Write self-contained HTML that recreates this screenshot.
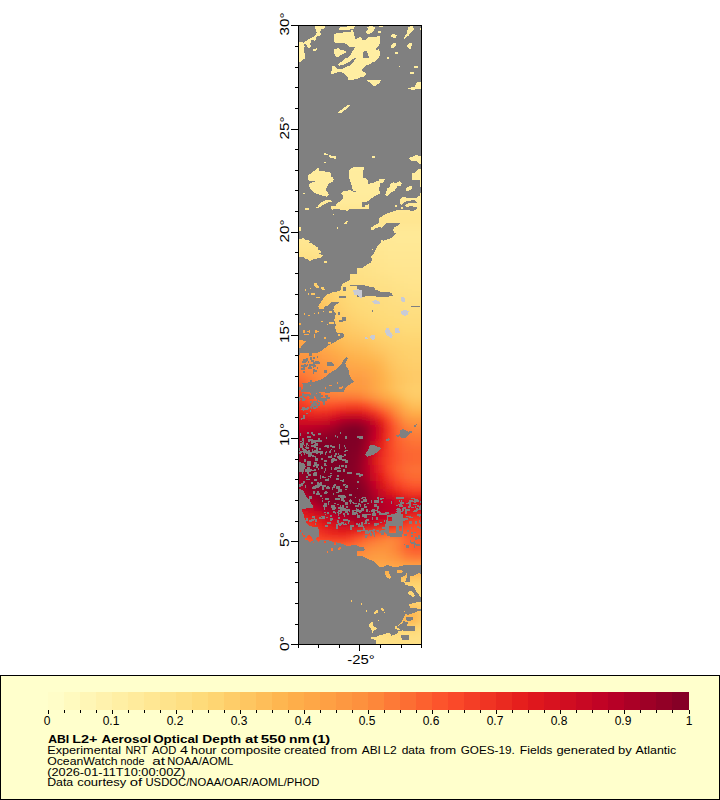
<!DOCTYPE html><html><head><meta charset="utf-8"><style>html,body{margin:0;padding:0;background:#fff;}svg{display:block}</style></head><body><svg width="720" height="800" viewBox="0 0 720 800" shape-rendering="auto"><defs><clipPath id="mc"><rect x="299" y="26" width="122" height="618"/></clipPath><filter id="bl" x="-5%" y="-5%" width="110%" height="110%"><feGaussianBlur stdDeviation="3"/></filter></defs><g clip-path="url(#mc)"><rect x="298" y="25" width="124" height="620" fill="#808080"/><defs><mask id="dm" maskUnits="userSpaceOnUse" x="290" y="20" width="140" height="630" shape-rendering="crispEdges"><rect x="290" y="20" width="140" height="630" fill="#000"/><g fill="#fff"><polygon points="315.0,26.2 325.0,26.0 324.8,28.3 321.7,29.2 320.0,31.2 320.8,34.2 319.6,35.8 316.7,36.7 315.8,39.2 314.8,41.2 313.3,40.4 311.7,40.0 310.8,41.2 310.4,43.8 310.8,46.7 309.6,47.9 307.5,47.5 306.8,45.0 305.4,44.0 304.2,43.5 303.8,42.5 305.8,41.2 308.3,39.6 310.8,38.3 313.8,36.7 315.8,34.6 316.7,32.5 316.2,30.4 315.0,28.8"/><polygon points="297.5,41.7 300.0,41.7 303.3,42.1 304.2,44.2 304.6,46.7 303.8,50.0 304.6,52.9 305.0,55.8 305.0,58.3 302.9,60.0 300.8,61.7 297.5,62.1"/><polygon points="312.9,49.2 316.7,48.2 317.3,50.0 315.0,51.0 312.9,50.4"/><polygon points="338.8,28.8 340.0,27.1 346.7,26.5 355.0,26.2 354.2,28.3 351.2,29.2 349.2,30.0 344.2,29.6 339.2,29.6"/><polygon points="333.8,34.2 336.7,33.3 342.5,32.5 347.5,32.1 350.8,31.7 351.7,30.0 353.3,30.8 353.8,34.2 355.0,37.5 355.8,39.6 357.5,38.3 358.8,37.5 360.8,37.1 361.7,38.3 362.9,40.4 365.0,40.0 367.5,37.5 370.0,36.7 372.5,37.1 376.7,36.7 380.0,35.8 380.4,41.7 379.2,45.0 376.7,47.5 375.0,49.2 376.7,50.0 379.2,49.2 380.0,52.5 379.6,55.8 378.3,58.3 376.7,60.0 374.6,61.7 372.5,62.1 371.7,63.3 369.2,64.2 365.8,65.8 363.3,68.3 361.7,70.0 363.3,71.7 365.8,73.3 365.8,75.0 363.3,76.7 360.8,77.1 358.3,78.3 355.0,79.2 351.7,80.0 348.3,80.0 347.5,76.7 345.0,74.2 342.5,72.5 338.3,71.7 335.0,73.3 331.7,74.2 330.8,72.9 331.7,70.0 331.7,66.7 335.0,65.8 336.7,68.3 338.3,69.2 342.5,68.8 346.7,66.7 349.2,65.8 351.7,64.2 353.3,62.5 354.2,60.8 355.8,59.2 356.7,57.5 355.0,57.5 352.5,59.2 350.8,60.8 348.3,62.5 345.8,63.8 342.5,65.0 339.2,65.8 337.9,65.0 339.2,63.3 341.7,61.7 343.3,60.0 345.8,58.3 348.3,57.5 350.0,55.8 351.2,53.3 352.1,51.7 353.3,50.0 355.0,47.5 353.3,46.7 350.8,47.5 349.2,46.7 347.5,45.0 345.8,43.8 342.5,42.9 338.3,42.9 335.0,42.9 333.8,41.2"/><polygon points="334.2,49.2 338.3,48.3 340.8,50.0 345.4,50.8 345.8,52.9 342.5,54.2 340.0,55.4 338.3,56.7 336.2,57.1 334.6,55.0 334.2,51.7"/><polygon points="366.7,27.5 369.2,26.2 375.0,26.7 374.2,30.0 371.7,32.5 369.2,33.8 365.8,33.3 366.7,30.8 368.3,29.2"/><polygon points="367.1,80.0 371.7,80.0 376.7,80.4 380.8,80.0 380.0,82.5 376.7,83.3 373.3,83.8 370.0,82.5"/><polygon points="378.7,26.0 382.8,26.0 382.8,27.3 378.7,27.3"/><polygon points="378.2,30.8 381.2,30.7 381.3,32.9 378.2,32.9"/><polygon points="391.2,35.0 393.7,33.8 396.6,35.4 395.8,37.5 392.8,37.5 391.2,36.7"/><polygon points="408.7,26.7 412.8,26.2 414.1,29.2 412.0,31.7 410.3,33.3 408.7,35.4 406.2,37.1 404.5,38.8 404.1,37.5 405.3,35.4 407.0,33.3 407.4,30.8"/><polygon points="420.2,27.9 422.8,27.9 422.8,30.0 420.2,30.0"/><polygon points="391.2,45.8 393.7,43.3 395.8,42.9 396.2,45.0 394.1,47.5 391.2,47.5"/><polygon points="394.9,52.1 397.8,51.7 397.8,53.8 395.3,54.2"/><polygon points="387.0,57.1 389.1,57.1 389.1,59.0 387.0,59.0"/><polygon points="407.0,45.0 410.3,42.9 412.0,42.5 411.6,45.8 410.8,49.2 408.7,48.3 407.4,47.1"/><polygon points="398.7,65.8 400.0,65.8 400.0,67.1 398.7,67.1"/><polygon points="413.7,65.8 417.8,65.8 418.2,67.9 414.1,67.9"/><polygon points="409.9,72.5 413.7,72.1 414.1,73.8 410.3,74.2"/><polygon points="367.1,80.1 381.1,80.1 379.8,82.7 374.7,86.5 372.8,85.9 370.9,82.7 367.7,81.4"/><polygon points="407.9,87.8 414.3,87.1 416.9,82.7 418.2,82.0 423.3,82.7 423.3,88.4 413.1,89.7 407.9,89.1"/><polygon points="337.7,112.1 342.8,108.9 346.6,105.7 349.8,105.0 349.2,106.9 344.1,110.8 342.1,112.7 338.3,113.1"/><polygon points="323.8,153.2 327.3,153.6 327.7,154.6 324.7,154.9"/><polygon points="329.0,155.3 335.9,156.0 335.9,158.8 332.4,158.3 329.4,157.1"/><polygon points="323.8,161.8 326.0,161.8 326.0,163.1 323.8,163.1"/><polygon points="308.3,175.1 310.9,173.4 314.4,170.8 316.5,168.7 318.7,168.2 319.1,170.8 323.0,171.3 326.4,171.7 329.9,172.6 331.2,174.3 330.7,176.0 333.3,177.7 333.7,179.4 332.9,182.0 329.0,182.9 328.1,185.5 326.4,188.1 325.6,190.6 328.1,192.8 329.0,194.9 326.4,196.7 323.8,195.8 319.5,194.9 315.2,193.2 311.8,190.6 310.1,188.1 308.8,185.5 310.1,182.9 313.5,182.0 315.2,181.2 312.6,180.7 309.2,180.7 307.9,178.6"/><polygon points="349.2,170.8 351.4,168.2 354.8,167.0 360.0,166.5 361.7,166.5 361.7,193.2 356.6,191.9 353.1,190.6 351.8,188.1 351.4,183.8 349.7,180.3 349.2,176.0"/><polygon points="341.1,193.2 343.6,190.6 347.9,190.6 349.7,189.8 353.1,191.5 361.7,191.5 361.7,208.7 335.0,208.7 335.9,205.3 337.6,202.7 340.2,201.8 342.8,198.4 342.8,195.8"/><polygon points="317.8,205.3 322.1,201.8 326.4,200.1 330.7,199.7 332.0,201.4 327.3,202.7 323.8,204.4 320.4,207.0 317.8,207.9"/><polygon points="303.2,193.2 304.9,192.8 305.1,194.1 303.3,194.3"/><polygon points="357.4,166.5 363.9,167.0 363.4,170.8 363.0,177.7 367.3,179.0 368.2,183.8 372.9,182.9 377.2,181.2 381.5,179.4 385.0,179.0 385.0,182.0 381.5,184.6 378.5,188.1 380.2,193.2 375.5,195.8 371.2,198.4 366.9,201.8 363.4,202.3 357.4,202.3"/><polygon points="372.1,156.2 375.1,156.0 375.1,157.5 372.5,157.9"/><polygon points="409.1,157.9 413.4,156.2 416.0,155.2 420.3,155.8 423.7,155.3 423.7,163.9 419.4,163.5 417.7,162.2 416.8,160.5 413.4,160.9 410.8,160.5"/><polygon points="411.7,173.4 415.1,172.6 418.6,169.1 423.7,168.2 423.7,187.2 420.3,186.3 417.7,182.9 415.1,180.7 411.7,180.7"/><polygon points="385.4,194.9 387.6,190.6 388.4,188.1 390.1,185.5 391.0,182.9 394.4,182.0 397.0,181.2 400.5,179.9 403.1,180.3 402.2,182.0 400.5,186.3 397.0,187.2 396.2,189.8 392.7,190.6 390.1,193.2 387.6,195.8"/><polygon points="406.5,188.1 409.1,186.8 411.7,186.3 412.1,188.9 409.1,190.6 406.5,190.6"/><polygon points="399.6,208.7 400.5,200.1 403.1,197.5 407.4,198.4 411.7,198.4 415.1,196.7 423.7,195.8 423.7,208.7"/><polygon points="395.3,205.3 397.0,205.3 397.0,208.7 395.3,208.7"/><polygon points="365.2,205.3 368.6,204.4 369.5,208.7 365.2,208.7"/><polygon points="330.7,206.1 354.8,206.1 354.0,208.3 348.8,209.6 347.1,210.9 344.5,209.6 341.1,209.6 336.8,209.2 332.4,209.6 331.2,209.2"/><polygon points="304.9,208.3 308.8,208.0 309.0,209.6 305.3,209.8"/><polygon points="316.1,206.6 318.7,206.6 318.7,208.0 316.1,208.0"/><polygon points="332.9,213.9 334.2,213.9 334.2,215.2 332.9,215.2"/><polygon points="344.1,223.4 346.7,221.2 347.9,221.6 347.1,223.4 344.9,224.1"/><polygon points="336.8,226.8 338.0,226.8 338.0,229.0 336.8,229.0"/><polygon points="295.4,227.2 301.0,227.2 301.0,230.7 295.4,230.7"/><polygon points="295.4,238.9 299.7,239.3 304.0,238.0 304.9,240.2 309.2,240.2 310.1,241.4 308.3,243.2 311.8,243.2 313.1,245.3 315.2,244.9 316.1,247.0 317.8,247.5 317.4,249.2 320.4,250.9 320.8,252.6 318.7,253.9 322.1,254.8 323.0,256.1 320.0,257.8 316.1,258.7 311.8,260.0 310.1,261.1 308.3,260.0 306.6,258.7 304.9,258.7 304.0,256.9 301.4,256.9 299.7,256.5 295.4,256.9"/><polygon points="323.8,260.8 326.8,260.8 327.1,262.8 324.0,262.8"/><polygon points="371.2,227.7 373.8,225.5 378.9,222.9 381.5,219.9 384.1,216.5 388.4,214.3 392.7,212.6 397.0,210.9 401.3,210.3 406.5,210.4 411.7,210.9 415.1,209.6 417.7,207.9 419.4,206.1 423.7,206.1 423.7,270.7 361.7,270.7 363.4,267.3 366.9,264.7 370.3,263.0 372.1,259.5 371.2,256.9 373.8,253.5 375.9,249.2 377.2,246.6 380.7,243.2 383.2,241.0 387.6,239.3 391.9,238.0 394.0,235.4 396.2,233.7 394.4,232.8 393.2,230.2 394.0,227.7 397.9,225.5 400.5,222.9 402.6,219.9 403.1,216.9 400.9,216.0 397.9,217.8 394.4,219.1 390.1,221.2 386.7,222.9 384.5,225.5 382.0,227.7 378.5,227.2 375.5,228.5 372.9,230.2 371.2,229.8"/><polygon points="361.7,206.6 365.2,206.6 364.7,208.7 362.2,208.7"/><polygon points="400.9,206.6 403.1,206.6 402.6,208.7 401.2,208.7"/><polygon points="380.7,240.2 382.8,240.2 382.8,241.9 380.7,241.9"/><polygon points="372.1,249.0 373.4,249.0 373.4,250.2 372.1,250.2"/><polygon points="357.4,268.1 357.4,270.7 356.6,274.2 353.1,274.2 349.7,274.2 350.1,277.6 349.7,280.2 346.2,281.9 342.8,283.6 341.5,286.2 341.1,289.7 338.5,291.4 334.2,291.8 330.7,293.1 326.4,294.8 323.8,297.4 323.0,299.1 321.2,301.7 320.0,303.4 318.7,305.2 317.8,306.9 321.2,308.2 323.8,307.3 326.4,306.0 329.0,305.2 330.7,302.6 334.2,301.7 337.6,301.7 339.3,303.0 335.9,304.3 334.2,306.9 333.3,309.5 334.2,312.1 335.9,313.8 335.0,317.2 334.2,319.8 335.0,322.4 335.9,325.0 335.0,327.6 336.8,332.7 361.7,332.7 361.7,268.1"/><polygon points="313.5,282.8 316.5,283.2 318.7,286.2 318.7,287.9 316.5,287.5 314.4,286.2"/><polygon points="321.2,287.1 323.8,287.1 324.7,289.7 321.7,289.7"/><polygon points="304.9,288.8 306.2,288.8 306.2,291.0 304.9,291.0"/><polygon points="310.1,287.9 311.1,287.9 311.1,289.2 310.1,289.2"/><polygon points="307.9,293.1 309.2,293.1 309.2,294.8 307.9,294.8"/><polygon points="310.9,293.1 315.2,293.1 315.2,294.8 310.9,294.8"/><polygon points="316.1,296.6 319.5,296.6 319.5,297.6 316.1,297.6"/><polygon points="329.0,311.0 332.4,311.0 332.4,312.5 329.0,312.5"/><polygon points="318.7,306.9 323.8,306.9 323.8,308.8 318.7,308.8"/><polygon points="323.0,311.0 324.0,311.0 324.0,312.1 323.0,312.1"/><polygon points="313.5,312.9 314.8,312.9 314.8,313.9 313.5,313.9"/><polygon points="317.8,312.1 319.1,312.1 319.1,313.8 317.8,313.8"/><polygon points="304.0,312.9 305.1,312.9 305.1,314.6 304.0,314.6"/><polygon points="308.2,315.1 310.1,315.1 310.1,316.1 308.2,316.1"/><polygon points="295.4,322.8 301.0,322.8 301.0,325.0 295.4,325.0"/><polygon points="320.8,320.7 323.0,320.7 323.0,321.7 320.8,321.7"/><polygon points="329.0,322.0 334.2,322.0 334.2,324.1 329.0,324.1"/><polygon points="327.3,324.1 328.3,324.1 328.3,325.1 327.3,325.1"/><polygon points="303.2,329.7 304.9,329.7 304.9,332.7 303.2,332.7"/><polygon points="309.2,329.7 310.2,329.7 310.2,332.7 309.2,332.7"/><polygon points="315.2,329.7 317.1,329.7 317.1,332.7 315.2,332.7"/><polygon points="357.4,268.1 423.7,268.1 423.7,332.7 357.4,332.7"/><polygon points="342.8,330.1 361.7,330.1 361.7,394.7 342.8,394.7 343.6,391.3 346.2,387.0 349.7,384.4 354.0,381.8 351.4,379.2 349.7,375.8 348.8,371.5 347.9,368.0 346.2,366.3 345.4,363.7 346.2,361.1 347.9,358.6 346.2,356.8 344.5,359.4 342.8,361.1 341.9,363.7 339.3,366.3 336.8,368.9 332.4,371.5 328.1,374.1 325.6,376.6 323.0,378.4 319.5,380.1 315.2,381.4 310.9,382.2 306.6,382.7 303.2,383.1 300.6,384.4 295.4,385.2 295.4,353.4 300.6,353.4 304.9,353.0 310.9,353.0 316.9,353.0 321.2,350.8 324.7,348.2 328.1,345.6 332.4,343.5 335.9,341.3 339.3,339.2 342.8,337.5 344.5,335.7 343.2,333.6"/><polygon points="295.4,339.6 299.7,339.6 303.2,340.5 306.6,341.3 304.9,343.1 302.3,344.8 300.6,348.2 295.4,349.1"/><polygon points="295.4,380.9 299.7,381.8 302.3,383.5 303.2,387.0 301.4,391.3 303.2,394.7 295.4,394.7"/><polygon points="337.6,334.4 340.2,334.4 340.2,336.2 337.6,336.2"/><polygon points="323.8,337.0 326.0,337.0 326.0,338.8 323.8,338.8"/><polygon points="328.1,342.2 330.7,342.2 330.7,343.9 328.1,343.9"/><polygon points="329.0,384.8 332.4,384.8 332.4,386.1 329.0,386.1"/><polygon points="336.8,382.2 338.0,382.2 338.0,383.5 336.8,383.5"/><polygon points="341.9,386.1 343.2,386.1 343.2,387.8 341.9,387.8"/><polygon points="339.3,387.0 341.9,387.0 341.9,388.7 339.3,388.7"/><polygon points="323.8,387.0 326.4,387.0 326.4,388.7 323.8,388.7"/><polygon points="310.1,384.8 310.9,384.8 310.9,385.7 310.1,385.7"/><polygon points="304.0,333.6 309.2,333.6 309.2,334.9 304.0,334.9"/><polygon points="313.5,334.4 315.2,334.4 315.2,337.9 313.5,337.9"/><polygon points="306.6,330.6 310.1,330.6 310.1,331.9 306.6,331.9"/><polygon points="315.2,330.6 318.7,330.6 318.7,331.9 315.2,331.9"/><polygon points="360.0,330.1 423.7,330.1 423.7,394.7 360.0,394.7"/><polygon points="295.4,392.1 361.7,392.1 361.7,456.7 295.4,456.7"/><polygon points="357.4,392.1 423.7,392.1 423.7,456.7 357.4,456.7"/><polygon points="295.4,454.1 361.7,454.1 361.7,518.7 295.4,518.7"/><polygon points="357.4,454.1 423.7,454.1 423.7,518.7 357.4,518.7"/><polygon points="304.9,516.1 361.7,516.1 361.7,545.4 356.6,545.4 351.4,545.4 347.9,546.3 344.5,544.6 339.3,542.8 334.2,542.0 330.7,541.1 327.3,539.4 323.8,537.7 320.4,536.8 322.1,534.2 318.7,531.6 317.8,528.2 310.9,527.3 310.1,524.8 305.8,522.2"/><polygon points="357.4,516.1 423.7,516.1 423.7,580.7 357.4,580.7"/><polygon points="403.9,578.7 423.7,578.7 423.7,596.8 420.3,596.8 418.6,594.2 416.0,591.6 415.1,589.0 413.4,586.4 408.2,585.6 404.8,584.7"/><polygon points="408.2,591.6 411.7,590.8 413.4,593.3 415.1,595.9 413.4,597.6 410.8,595.1 408.2,594.2"/><polygon points="409.1,604.5 413.4,602.8 420.3,601.9 423.7,601.5 423.7,608.8 418.6,608.8 414.2,608.0 409.9,607.5"/><polygon points="400.5,614.0 403.1,613.1 408.2,614.9 413.4,613.1 416.8,611.4 420.3,611.4 423.7,610.6 423.7,646.7 375.5,646.7 375.5,639.8 371.2,639.0 371.2,636.8 375.5,637.2 378.9,635.5 382.4,634.7 385.8,633.8 387.6,632.9 391.0,633.8 391.0,636.0 394.4,634.7 398.8,632.9 400.5,631.2 403.1,629.5 406.5,626.1 408.2,622.6 404.8,621.8 403.9,619.2 401.3,615.7"/><polygon points="394.4,626.9 397.9,627.8 400.5,629.5 397.9,629.9 395.3,628.6"/><polygon points="369.0,625.2 371.2,621.8 373.8,622.6 372.9,625.2 374.6,626.9 376.8,628.2 375.5,629.9 372.9,631.2 372.5,632.9 371.2,629.5 369.5,626.9"/><polygon points="373.8,612.3 376.4,610.1 378.1,610.6 377.7,612.7 375.5,614.0 373.8,613.6"/><polygon points="381.1,608.4 383.2,608.0 384.1,610.6 382.0,611.0"/><polygon points="360.9,602.8 362.2,602.8 362.2,605.0 360.9,605.0"/><polygon points="366.0,610.1 367.3,610.1 367.3,611.8 366.0,611.8"/><polygon points="378.1,620.0 378.9,620.0 378.9,620.9 378.1,620.9"/><polygon points="384.1,611.8 385.0,611.8 385.0,612.7 384.1,612.7"/><polygon points="400.0,613.1 402.2,613.1 402.2,614.9 400.0,614.9"/><polygon points="403.9,611.0 404.8,611.0 404.8,611.8 403.9,611.8"/><polygon points="351.0,600.1 352.1,600.1 352.1,602.1 351.0,602.1"/><polygon points="298.0,480.0 330.0,480.0 330.0,540.0 298.0,540.0"/></g><g fill="#000"><polygon points="363.3,51.7 366.7,50.8 369.2,57.5 365.8,58.3 362.5,57.9"/><polygon points="342.8,287.1 346.2,287.1 346.2,290.5 342.8,290.5"/><polygon points="338.5,296.4 346.2,296.4 346.2,297.8 338.5,297.8"/><polygon points="337.6,312.1 340.2,312.1 340.2,314.6 337.6,314.6"/><polygon points="341.9,317.2 346.2,317.2 346.2,320.7 341.9,320.7"/><polygon points="338.5,319.8 342.8,319.8 342.8,322.4 338.5,322.4"/><polygon points="349.7,284.5 358.3,284.5 358.3,286.2 349.7,286.2"/><polygon points="357.4,285.4 363.4,284.9 367.8,286.2 373.8,287.5 375.5,289.7 379.8,291.4 384.1,292.2 388.4,292.2 391.9,293.1 392.7,295.7 388.4,296.6 381.5,297.4 377.2,296.6 368.6,295.7 364.3,296.6 357.4,296.6"/><polygon points="372.1,309.9 372.9,309.9 372.9,311.6 372.1,311.6"/><polygon points="375.5,309.9 376.4,309.9 376.4,311.6 375.5,311.6"/><polygon points="410.8,305.6 420.3,305.6 420.3,306.9 410.8,306.9"/><polygon points="327.3,362.0 330.7,361.6 332.4,362.9 334.2,365.4 329.0,366.3 326.4,365.4"/><polygon points="313.5,364.6 315.2,364.6 315.2,367.2 313.5,367.2"/><polygon points="301.4,365.4 306.6,365.4 306.6,367.2 301.4,367.2"/><polygon points="399.6,430.0 403.1,429.2 405.6,430.0 408.2,431.8 411.7,430.9 411.7,432.6 409.1,434.3 407.4,436.1 405.6,437.8 403.1,438.6 401.3,437.8 399.6,436.1 397.9,436.9 395.3,436.1 396.2,435.2 399.6,434.3 400.5,432.6"/><polygon points="385.8,439.5 388.4,438.2 391.0,439.1 389.3,440.4 386.7,441.2"/><polygon points="369.5,445.5 372.9,444.7 377.2,446.4 381.5,448.1 378.9,450.7 375.5,453.3 372.9,455.0 367.8,456.7 365.2,455.0 366.9,451.6 368.6,449.0"/><polygon points="414.2,424.9 416.8,424.4 416.0,426.6 414.2,426.6"/><polygon points="295.4,461.9 303.2,462.8 305.8,466.2 304.0,470.5 300.6,472.2 295.4,472.2"/><polygon points="357.4,546.3 363.4,547.1 365.2,549.7 361.7,551.4 357.4,551.4"/><polygon points="357.4,555.8 361.7,556.2 365.2,557.5 368.6,559.2 372.9,560.9 375.5,562.6 377.2,565.2 379.8,566.9 384.1,566.1 387.6,565.2 391.0,566.1 394.4,567.4 397.9,566.9 400.5,566.1 404.8,565.2 411.7,565.2 416.8,564.8 423.7,564.4 423.7,582.4 357.4,582.4"/><polygon points="409.9,617.4 413.4,617.4 413.4,620.0 409.9,620.0"/><polygon points="403.1,626.5 409.1,626.5 409.1,630.4 403.1,630.4"/><polygon points="400.5,636.4 404.8,636.4 404.8,639.8 400.5,639.8"/><polygon points="380.0,180.0 424.3,180.0 424.3,222.0 380.0,222.0"/><polygon points="296.0,488.0 302.9,490.0 305.7,494.9 306.4,496.9 309.9,499.7 310.6,502.5 312.7,505.3 312.7,508.1 306.4,508.4 302.3,509.1 301.9,510.8 302.9,512.9 304.3,516.4 305.0,522.0 307.8,524.7 309.9,526.1 318.2,527.5 318.9,531.7 319.6,540.0 319.6,548.0 296.0,548.0"/><polygon points="402.6,626.4 415.1,626.4 415.1,631.2 402.6,631.2"/><polygon points="406.0,616.7 409.5,616.7 410.9,620.8 406.7,620.8"/><polygon points="401.2,634.7 408.8,634.7 408.8,640.3 401.2,640.3"/><polygon points="399.4,611.8 405.3,612.2 404.6,616.0 402.6,620.1 401.2,622.9 399.8,625.0 397.7,626.7 396.3,627.1"/><polygon points="387.2,515.4 395.7,513.5 403.2,514.4 403.2,523.9 402.3,537.1 395.7,537.1 387.2,536.2 384.3,528.6 386.2,522.0"/></g><g fill="#fff"><polygon points="306.6,535.9 309.2,535.1 311.8,537.7 313.1,540.2 310.9,542.0 308.3,541.1 306.6,539.4"/><polygon points="299.7,530.3 301.4,530.3 301.4,532.1 299.7,532.1"/><polygon points="301.9,532.5 303.2,532.5 303.2,535.1 301.9,535.1"/><polygon points="302.7,535.1 304.9,535.1 304.9,536.8 302.7,536.8"/><polygon points="304.9,538.1 307.5,538.1 307.5,539.8 304.9,539.8"/><polygon points="316.1,537.7 319.5,537.2 320.8,540.2 318.7,542.0 316.5,540.2"/><polygon points="323.8,541.1 325.6,541.1 325.6,542.8 323.8,542.8"/><polygon points="330.7,548.0 333.3,548.0 333.3,551.0 330.7,551.0"/><polygon points="337.6,548.0 341.1,546.7 340.2,549.7 338.0,550.2"/><polygon points="326.8,551.0 328.1,551.0 328.1,552.7 326.8,552.7"/><polygon points="334.2,542.0 335.5,542.0 335.5,544.6 334.2,544.6"/><polygon points="312.6,542.0 313.9,542.0 313.9,542.8 312.6,542.8"/><polygon points="385.0,571.2 388.4,570.8 389.3,573.8 391.0,577.3 389.3,579.0 386.7,577.3 385.4,574.7"/><polygon points="397.0,570.4 401.3,570.0 403.1,572.1 399.6,573.0 397.5,572.5"/><polygon points="401.3,577.3 404.8,575.6 406.9,573.0 407.4,575.6 404.8,582.4 400.5,582.4"/><polygon points="409.9,576.4 413.4,575.6 418.6,573.0 420.3,573.8 422.0,572.1 423.7,577.3 423.7,582.4 409.9,582.4"/><polygon points="382.0,565.2 384.1,565.2 384.1,566.9 382.0,566.9"/><polygon points="378.8,178.8 384.7,178.8 384.1,181.2 382.3,182.9 380.0,183.5 378.8,183.5"/><polygon points="385.2,194.6 386.4,191.7 387.0,188.8 389.9,186.4 390.2,184.7 391.1,182.9 393.4,182.3 396.3,182.9 398.1,181.8 399.8,181.2 401.6,183.5 400.4,185.8 397.5,186.4 396.3,188.2 394.6,190.5 391.7,192.2 390.5,193.4 388.2,195.8 385.8,196.0"/><polygon points="405.7,188.8 408.0,187.0 411.5,185.8 412.1,187.6 410.9,189.9 408.0,190.8 406.0,190.5"/><polygon points="419.7,178.8 424.3,178.8 424.3,187.6 420.2,187.0"/><polygon points="419.7,192.8 424.3,192.8 424.3,195.2 419.7,195.2"/><polygon points="399.8,202.2 400.4,199.2 402.2,197.5 404.5,197.2 409.2,198.1 412.7,197.5 416.2,198.1 418.5,196.3 420.8,195.2 424.3,195.2 424.3,223.2 378.8,223.2 378.8,217.9 382.3,216.2 385.8,213.8 389.3,212.7 392.8,211.5 396.3,210.3 399.8,210.3 403.3,209.8 408.0,210.3 412.7,210.9 415.0,210.3 416.8,208.6 417.3,206.8 415.0,206.8 411.5,206.2 407.4,206.8 405.1,206.2 405.7,204.5 408.6,203.3 412.7,203.0 416.2,203.3 417.3,202.2 415.0,200.4 411.5,200.4 407.4,201.0 404.5,202.2 402.2,204.5 401.0,205.1"/><polygon points="394.9,204.8 396.9,204.8 396.9,206.8 394.9,206.8"/><polygon points="401.0,206.8 403.0,206.8 403.0,208.9 401.0,208.9"/><polygon points="394.9,627.1 397.7,626.4 399.8,625.0 402.6,622.9 403.9,620.8 405.3,618.1 406.7,616.0 404.6,616.7 402.6,620.1 400.5,622.9 397.7,625.7 394.9,626.4"/><polygon points="398.4,631.2 401.2,631.2 401.2,633.3 398.4,633.3"/><polygon points="399.8,637.5 401.9,637.5 401.9,639.6 399.8,639.6"/><polygon points="389.1,525.8 395.7,525.8 395.7,533.3 389.1,533.3"/><polygon points="399.4,525.8 402.3,525.8 402.3,530.5 399.4,530.5"/><polygon points="388.1,517.3 391.9,517.3 391.9,521.1 388.1,521.1"/></g><g fill="#000"><rect x="309" y="396" width="3" height="1"/><rect x="301" y="418" width="4" height="1"/><rect x="310" y="410" width="1" height="2"/><rect x="312" y="405" width="1" height="2"/><rect x="301" y="409" width="3" height="1"/><rect x="302" y="399" width="4" height="1"/><rect x="311" y="393" width="2" height="1"/><rect x="316" y="396" width="2" height="3"/><rect x="303" y="409" width="1" height="2"/><rect x="320" y="397" width="1" height="2"/><rect x="310" y="395" width="4" height="1"/><rect x="317" y="393" width="4" height="2"/><rect x="316" y="405" width="2" height="3"/><rect x="310" y="401" width="2" height="2"/><rect x="306" y="394" width="4" height="2"/><rect x="313" y="401" width="4" height="1"/><rect x="302" y="408" width="3" height="2"/><rect x="323" y="402" width="2" height="3"/><rect x="312" y="393" width="1" height="2"/><rect x="301" y="418" width="1" height="2"/><rect x="320" y="394" width="1" height="2"/><rect x="313" y="401" width="3" height="2"/><rect x="310" y="397" width="4" height="1"/><rect x="314" y="393" width="2" height="2"/><rect x="303" y="415" width="2" height="3"/><rect x="311" y="407" width="1" height="2"/><rect x="313" y="404" width="4" height="2"/><rect x="312" y="403" width="3" height="2"/><rect x="303" y="394" width="2" height="2"/><rect x="306" y="413" width="2" height="1"/><rect x="317" y="397" width="2" height="2"/><rect x="317" y="402" width="2" height="1"/><rect x="311" y="404" width="3" height="3"/><rect x="302" y="407" width="3" height="1"/><rect x="305" y="394" width="2" height="3"/><rect x="304" y="395" width="2" height="1"/><rect x="317" y="396" width="4" height="1"/><rect x="318" y="404" width="2" height="2"/><rect x="310" y="407" width="1" height="1"/><rect x="313" y="407" width="3" height="2"/><rect x="301" y="396" width="1" height="2"/><rect x="322" y="400" width="3" height="2"/><rect x="305" y="408" width="2" height="2"/><rect x="315" y="401" width="1" height="2"/><rect x="315" y="403" width="2" height="2"/><rect x="323" y="399" width="4" height="2"/><rect x="319" y="399" width="4" height="2"/><rect x="324" y="399" width="3" height="2"/><rect x="305" y="408" width="3" height="2"/><rect x="307" y="407" width="2" height="2"/><rect x="310" y="406" width="2" height="2"/><rect x="302" y="399" width="3" height="2"/><rect x="309" y="398" width="3" height="1"/><rect x="319" y="394" width="1" height="3"/><rect x="323" y="398" width="3" height="2"/><rect x="319" y="402" width="1" height="3"/><rect x="312" y="449" width="1" height="2"/><rect x="303" y="441" width="1" height="2"/><rect x="316" y="451" width="2" height="3"/><rect x="319" y="448" width="2" height="2"/><rect x="318" y="440" width="4" height="2"/><rect x="311" y="443" width="2" height="1"/><rect x="306" y="443" width="2" height="2"/><rect x="316" y="447" width="2" height="3"/><rect x="302" y="438" width="2" height="3"/><rect x="314" y="450" width="4" height="2"/><rect x="315" y="441" width="4" height="1"/><rect x="312" y="442" width="4" height="1"/><rect x="302" y="442" width="2" height="3"/><rect x="317" y="440" width="4" height="1"/><rect x="308" y="453" width="4" height="3"/><rect x="301" y="454" width="1" height="2"/><rect x="304" y="445" width="1" height="1"/><rect x="314" y="451" width="4" height="1"/><rect x="300" y="451" width="2" height="2"/><rect x="306" y="451" width="4" height="3"/><rect x="314" y="444" width="4" height="2"/><rect x="315" y="443" width="3" height="2"/><rect x="311" y="440" width="3" height="3"/><rect x="308" y="439" width="2" height="3"/><rect x="300" y="443" width="2" height="1"/><rect x="302" y="448" width="2" height="2"/><rect x="302" y="451" width="2" height="1"/><rect x="310" y="452" width="2" height="2"/><rect x="303" y="450" width="4" height="3"/><rect x="308" y="450" width="2" height="2"/><rect x="308" y="439" width="2" height="1"/><rect x="308" y="454" width="3" height="3"/><rect x="298" y="449" width="2" height="2"/><rect x="331" y="449" width="1" height="1"/><rect x="334" y="450" width="1" height="2"/><rect x="357" y="436" width="3" height="2"/><rect x="359" y="436" width="4" height="3"/><rect x="348" y="522" width="1" height="2"/><rect x="315" y="523" width="1" height="2"/><rect x="305" y="527" width="1" height="2"/><rect x="309" y="526" width="2" height="1"/><rect x="320" y="518" width="3" height="1"/><rect x="325" y="525" width="3" height="2"/><rect x="343" y="519" width="1" height="2"/><rect x="311" y="519" width="2" height="1"/><rect x="315" y="520" width="2" height="2"/><rect x="337" y="520" width="2" height="3"/><rect x="336" y="527" width="2" height="2"/><rect x="326" y="517" width="2" height="1"/><rect x="350" y="525" width="4" height="2"/><rect x="336" y="524" width="2" height="3"/><rect x="310" y="527" width="3" height="3"/><rect x="338" y="523" width="4" height="2"/><rect x="348" y="520" width="2" height="2"/><rect x="350" y="527" width="2" height="3"/><rect x="326" y="517" width="2" height="1"/><rect x="308" y="527" width="2" height="3"/><rect x="314" y="517" width="1" height="3"/><rect x="359" y="525" width="2" height="2"/><rect x="348" y="521" width="1" height="3"/><rect x="315" y="519" width="2" height="3"/><rect x="327" y="522" width="4" height="2"/><rect x="319" y="517" width="2" height="2"/><rect x="365" y="522" width="1" height="2"/><rect x="366" y="519" width="3" height="2"/><rect x="368" y="523" width="2" height="1"/><rect x="361" y="525" width="1" height="2"/><rect x="366" y="535" width="1" height="3"/><rect x="361" y="501" width="2" height="2"/><rect x="414" y="499" width="4" height="3"/><rect x="408" y="502" width="3" height="2"/><rect x="378" y="499" width="1" height="3"/><rect x="396" y="497" width="4" height="2"/><rect x="365" y="497" width="1" height="2"/><rect x="400" y="502" width="1" height="3"/><rect x="413" y="504" width="4" height="1"/><rect x="400" y="497" width="4" height="2"/><rect x="391" y="501" width="1" height="3"/><rect x="411" y="498" width="4" height="1"/><rect x="364" y="504" width="2" height="1"/><rect x="414" y="501" width="2" height="2"/><rect x="374" y="504" width="3" height="3"/><rect x="364" y="504" width="2" height="1"/><rect x="399" y="500" width="1" height="2"/><rect x="381" y="501" width="2" height="2"/><rect x="360" y="504" width="1" height="3"/><rect x="373" y="511" width="2" height="3"/><rect x="374" y="523" width="3" height="3"/><rect x="385" y="512" width="4" height="2"/><rect x="375" y="510" width="3" height="1"/><rect x="374" y="534" width="1" height="3"/><rect x="373" y="529" width="2" height="2"/><rect x="360" y="510" width="2" height="2"/><rect x="379" y="513" width="4" height="2"/><rect x="363" y="528" width="2" height="3"/><rect x="357" y="515" width="1" height="3"/><rect x="384" y="530" width="2" height="2"/><rect x="382" y="527" width="3" height="2"/><rect x="363" y="526" width="1" height="2"/><rect x="377" y="530" width="1" height="2"/><rect x="356" y="523" width="2" height="2"/><rect x="360" y="530" width="3" height="1"/><rect x="379" y="532" width="2" height="1"/><rect x="373" y="511" width="1" height="2"/><rect x="365" y="520" width="2" height="3"/><rect x="376" y="517" width="2" height="3"/><rect x="357" y="530" width="4" height="2"/><rect x="361" y="508" width="3" height="3"/><rect x="364" y="523" width="3" height="1"/><rect x="364" y="515" width="3" height="3"/><rect x="377" y="523" width="2" height="2"/><rect x="372" y="530" width="2" height="2"/><rect x="386" y="530" width="1" height="2"/><rect x="366" y="509" width="2" height="3"/><rect x="370" y="533" width="2" height="3"/><rect x="383" y="513" width="4" height="2"/><rect x="371" y="510" width="2" height="2"/><rect x="361" y="525" width="2" height="2"/><rect x="372" y="517" width="1" height="3"/><rect x="380" y="531" width="4" height="2"/><rect x="380" y="522" width="2" height="1"/><rect x="379" y="513" width="4" height="2"/><rect x="361" y="522" width="2" height="3"/><rect x="381" y="533" width="3" height="2"/><rect x="357" y="513" width="1" height="3"/><rect x="356" y="509" width="3" height="3"/><rect x="384" y="520" width="1" height="2"/><rect x="365" y="514" width="4" height="1"/><rect x="367" y="535" width="1" height="1"/><rect x="369" y="530" width="4" height="1"/><rect x="385" y="531" width="2" height="2"/><rect x="381" y="533" width="1" height="1"/><rect x="367" y="531" width="4" height="2"/><rect x="377" y="531" width="2" height="1"/><rect x="365" y="535" width="2" height="3"/><rect x="373" y="532" width="2" height="3"/><rect x="381" y="530" width="4" height="2"/><rect x="365" y="533" width="2" height="1"/><rect x="365" y="530" width="3" height="3"/><rect x="367" y="531" width="2" height="3"/><rect x="376" y="530" width="3" height="1"/><rect x="414" y="510" width="3" height="2"/><rect x="413" y="511" width="2" height="1"/><rect x="417" y="509" width="4" height="1"/><rect x="398" y="512" width="2" height="2"/><rect x="416" y="508" width="2" height="3"/><rect x="399" y="509" width="2" height="1"/><rect x="397" y="508" width="3" height="3"/><rect x="421" y="505" width="4" height="2"/><rect x="421" y="511" width="1" height="2"/><rect x="396" y="511" width="1" height="1"/><rect x="397" y="511" width="3" height="2"/><rect x="415" y="506" width="1" height="2"/><rect x="402" y="508" width="2" height="3"/><rect x="404" y="534" width="3" height="2"/><rect x="413" y="543" width="2" height="1"/><rect x="403" y="520" width="2" height="1"/><rect x="414" y="541" width="1" height="2"/><rect x="415" y="537" width="2" height="3"/><rect x="405" y="518" width="3" height="2"/><rect x="414" y="543" width="2" height="2"/><rect x="414" y="545" width="1" height="3"/><rect x="410" y="540" width="1" height="3"/><rect x="404" y="544" width="1" height="1"/><rect x="411" y="527" width="1" height="2"/><rect x="414" y="532" width="2" height="1"/><rect x="411" y="535" width="2" height="2"/><rect x="403" y="519" width="1" height="2"/><rect x="406" y="545" width="3" height="3"/><rect x="411" y="542" width="3" height="2"/><rect x="418" y="526" width="1" height="2"/><rect x="407" y="530" width="2" height="2"/><rect x="417" y="538" width="4" height="1"/><rect x="419" y="527" width="3" height="2"/><rect x="410" y="541" width="1" height="1"/><rect x="418" y="535" width="2" height="3"/><rect x="406" y="519" width="2" height="1"/><rect x="409" y="521" width="3" height="3"/><rect x="417" y="526" width="2" height="2"/><rect x="416" y="544" width="4" height="2"/><rect x="420" y="522" width="2" height="2"/><rect x="411" y="532" width="2" height="2"/><rect x="345" y="436" width="2" height="3"/><rect x="313" y="434" width="2" height="2"/><rect x="307" y="436" width="4" height="2"/><rect x="318" y="433" width="3" height="2"/><rect x="313" y="440" width="4" height="2"/><rect x="339" y="444" width="1" height="3"/><rect x="300" y="433" width="1" height="3"/><rect x="326" y="437" width="1" height="2"/><rect x="312" y="433" width="1" height="2"/><rect x="335" y="435" width="1" height="2"/><rect x="309" y="439" width="4" height="2"/><rect x="340" y="432" width="1" height="2"/><rect x="311" y="432" width="2" height="2"/><rect x="307" y="432" width="2" height="2"/><rect x="300" y="441" width="2" height="1"/><rect x="318" y="438" width="2" height="2"/><rect x="337" y="436" width="1" height="2"/><rect x="300" y="444" width="3" height="3"/><rect x="302" y="471" width="1" height="3"/><rect x="340" y="480" width="2" height="1"/><rect x="339" y="455" width="3" height="2"/><rect x="324" y="463" width="2" height="3"/><rect x="301" y="464" width="4" height="2"/><rect x="324" y="471" width="1" height="2"/><rect x="339" y="457" width="3" height="3"/><rect x="311" y="445" width="3" height="2"/><rect x="325" y="452" width="1" height="3"/><rect x="334" y="468" width="3" height="2"/><rect x="306" y="445" width="1" height="2"/><rect x="339" y="496" width="3" height="1"/><rect x="334" y="484" width="2" height="2"/><rect x="307" y="467" width="2" height="2"/><rect x="331" y="455" width="1" height="1"/><rect x="322" y="476" width="2" height="2"/><rect x="306" y="447" width="3" height="2"/><rect x="301" y="483" width="3" height="1"/><rect x="343" y="484" width="2" height="2"/><rect x="337" y="470" width="4" height="2"/><rect x="328" y="456" width="4" height="2"/><rect x="300" y="470" width="4" height="2"/><rect x="322" y="467" width="1" height="2"/><rect x="313" y="491" width="2" height="1"/><rect x="333" y="493" width="1" height="2"/><rect x="305" y="469" width="4" height="3"/><rect x="333" y="485" width="2" height="3"/><rect x="317" y="482" width="2" height="3"/><rect x="322" y="487" width="2" height="3"/><rect x="330" y="473" width="2" height="1"/><rect x="298" y="484" width="3" height="3"/><rect x="313" y="473" width="4" height="3"/><rect x="309" y="496" width="3" height="3"/><rect x="304" y="449" width="2" height="2"/><rect x="325" y="468" width="1" height="3"/><rect x="330" y="477" width="1" height="1"/><rect x="338" y="453" width="1" height="2"/><rect x="330" y="450" width="1" height="3"/><rect x="339" y="495" width="2" height="1"/><rect x="302" y="484" width="1" height="2"/><rect x="306" y="476" width="2" height="2"/><rect x="341" y="495" width="2" height="1"/><rect x="320" y="484" width="2" height="2"/><rect x="318" y="484" width="2" height="3"/><rect x="307" y="461" width="4" height="3"/><rect x="311" y="482" width="2" height="2"/><rect x="318" y="468" width="1" height="2"/><rect x="309" y="470" width="2" height="2"/><rect x="341" y="465" width="3" height="2"/><rect x="314" y="452" width="4" height="1"/><rect x="338" y="468" width="3" height="1"/><rect x="314" y="479" width="3" height="2"/><rect x="314" y="469" width="2" height="2"/><rect x="321" y="466" width="1" height="3"/><rect x="312" y="456" width="4" height="1"/><rect x="331" y="461" width="2" height="2"/><rect x="344" y="445" width="1" height="2"/><rect x="307" y="463" width="4" height="3"/><rect x="324" y="477" width="2" height="1"/><rect x="306" y="476" width="2" height="1"/><rect x="299" y="448" width="1" height="2"/><rect x="317" y="451" width="4" height="2"/><rect x="332" y="459" width="3" height="2"/><rect x="335" y="453" width="2" height="2"/><rect x="337" y="475" width="2" height="2"/><rect x="298" y="496" width="2" height="2"/><rect x="326" y="451" width="1" height="2"/><rect x="340" y="495" width="2" height="3"/><rect x="314" y="445" width="1" height="2"/><rect x="336" y="486" width="4" height="3"/><rect x="336" y="478" width="3" height="2"/><rect x="308" y="445" width="1" height="1"/><rect x="332" y="446" width="3" height="2"/><rect x="313" y="455" width="1" height="1"/><rect x="298" y="484" width="4" height="2"/><rect x="307" y="471" width="2" height="3"/><rect x="337" y="456" width="4" height="2"/><rect x="302" y="464" width="1" height="3"/><rect x="343" y="479" width="1" height="3"/><rect x="325" y="492" width="3" height="1"/><rect x="345" y="486" width="3" height="2"/><rect x="312" y="451" width="2" height="2"/><rect x="339" y="447" width="1" height="2"/><rect x="345" y="489" width="2" height="1"/><rect x="315" y="485" width="4" height="3"/><rect x="341" y="495" width="4" height="2"/><rect x="316" y="486" width="2" height="1"/><rect x="330" y="445" width="2" height="2"/><rect x="313" y="492" width="2" height="2"/><rect x="345" y="465" width="2" height="3"/><rect x="319" y="483" width="2" height="3"/><rect x="338" y="489" width="4" height="3"/><rect x="328" y="478" width="1" height="1"/><rect x="325" y="491" width="2" height="2"/><rect x="311" y="470" width="4" height="1"/><rect x="334" y="455" width="2" height="1"/><rect x="299" y="452" width="1" height="2"/><rect x="320" y="454" width="1" height="1"/><rect x="300" y="453" width="1" height="1"/><rect x="345" y="447" width="1" height="2"/><rect x="332" y="487" width="1" height="3"/><rect x="304" y="460" width="2" height="2"/><rect x="305" y="447" width="1" height="1"/><rect x="346" y="485" width="2" height="3"/><rect x="304" y="453" width="1" height="2"/><rect x="316" y="465" width="2" height="3"/><rect x="314" y="446" width="2" height="2"/><rect x="316" y="448" width="2" height="2"/><rect x="330" y="475" width="2" height="1"/><rect x="324" y="446" width="3" height="1"/><rect x="320" y="475" width="1" height="2"/><rect x="303" y="481" width="2" height="2"/><rect x="325" y="445" width="4" height="2"/><rect x="316" y="493" width="1" height="1"/><rect x="320" y="476" width="1" height="3"/><rect x="342" y="495" width="2" height="3"/><rect x="335" y="467" width="4" height="2"/><rect x="334" y="455" width="2" height="2"/><rect x="342" y="459" width="3" height="2"/><rect x="305" y="485" width="1" height="3"/><rect x="342" y="480" width="1" height="2"/><rect x="320" y="451" width="3" height="3"/><rect x="345" y="450" width="3" height="1"/><rect x="321" y="458" width="2" height="2"/><rect x="325" y="479" width="4" height="2"/><rect x="322" y="485" width="2" height="3"/><rect x="306" y="479" width="4" height="1"/><rect x="320" y="482" width="2" height="2"/><rect x="326" y="487" width="4" height="2"/><rect x="308" y="474" width="3" height="2"/><rect x="335" y="459" width="2" height="2"/><rect x="327" y="486" width="2" height="2"/><rect x="315" y="464" width="4" height="2"/><rect x="344" y="454" width="2" height="2"/><rect x="336" y="478" width="2" height="2"/><rect x="313" y="465" width="2" height="2"/><rect x="344" y="451" width="2" height="1"/><rect x="310" y="469" width="2" height="2"/><rect x="317" y="491" width="2" height="3"/><rect x="315" y="457" width="1" height="1"/><rect x="315" y="458" width="3" height="3"/><rect x="300" y="445" width="3" height="3"/><rect x="342" y="459" width="4" height="2"/><rect x="327" y="446" width="2" height="2"/><rect x="336" y="492" width="3" height="1"/><rect x="345" y="460" width="3" height="3"/><rect x="312" y="487" width="4" height="2"/><rect x="341" y="456" width="1" height="3"/><rect x="325" y="465" width="2" height="1"/><rect x="324" y="460" width="3" height="2"/><rect x="314" y="472" width="3" height="3"/><rect x="299" y="484" width="3" height="2"/><rect x="339" y="465" width="1" height="3"/><rect x="329" y="451" width="1" height="2"/><rect x="332" y="458" width="2" height="2"/><rect x="331" y="467" width="1" height="3"/><rect x="332" y="458" width="3" height="1"/><rect x="338" y="495" width="2" height="2"/><rect x="324" y="492" width="3" height="2"/><rect x="341" y="456" width="3" height="1"/><rect x="344" y="484" width="2" height="1"/><rect x="314" y="462" width="3" height="3"/><rect x="301" y="445" width="1" height="3"/><rect x="324" y="485" width="2" height="2"/><rect x="304" y="459" width="2" height="3"/><rect x="331" y="459" width="3" height="3"/><rect x="311" y="455" width="2" height="1"/><rect x="338" y="457" width="3" height="2"/><rect x="307" y="467" width="3" height="3"/><rect x="316" y="493" width="4" height="2"/><rect x="320" y="495" width="2" height="2"/><rect x="343" y="469" width="2" height="3"/><rect x="341" y="456" width="3" height="1"/><rect x="344" y="496" width="2" height="2"/><rect x="313" y="486" width="2" height="2"/><rect x="328" y="476" width="3" height="1"/><rect x="357" y="481" width="2" height="2"/><rect x="347" y="472" width="4" height="2"/><rect x="359" y="474" width="4" height="2"/><rect x="357" y="488" width="1" height="1"/><rect x="350" y="472" width="2" height="2"/><rect x="356" y="473" width="4" height="2"/><rect x="349" y="494" width="3" height="2"/><rect x="359" y="474" width="2" height="3"/><rect x="372" y="514" width="2" height="1"/><rect x="364" y="514" width="2" height="2"/><rect x="353" y="503" width="4" height="1"/><rect x="369" y="511" width="1" height="1"/><rect x="338" y="510" width="2" height="2"/><rect x="352" y="512" width="4" height="1"/><rect x="352" y="511" width="2" height="3"/><rect x="337" y="512" width="2" height="1"/><rect x="332" y="507" width="3" height="3"/><rect x="364" y="506" width="3" height="2"/><rect x="349" y="510" width="1" height="2"/><rect x="362" y="508" width="1" height="1"/><rect x="361" y="498" width="2" height="1"/><rect x="354" y="512" width="3" height="2"/><rect x="324" y="503" width="3" height="2"/><rect x="343" y="500" width="2" height="2"/><rect x="352" y="513" width="4" height="2"/><rect x="340" y="510" width="2" height="3"/><rect x="338" y="514" width="1" height="2"/><rect x="340" y="508" width="3" height="3"/><rect x="343" y="513" width="2" height="2"/><rect x="335" y="512" width="1" height="2"/><rect x="334" y="507" width="2" height="2"/><rect x="359" y="499" width="1" height="3"/><rect x="368" y="514" width="3" height="1"/><rect x="347" y="506" width="1" height="1"/><rect x="324" y="503" width="3" height="1"/><rect x="372" y="513" width="4" height="3"/><rect x="361" y="501" width="4" height="1"/><rect x="335" y="498" width="3" height="2"/><rect x="328" y="502" width="1" height="3"/><rect x="371" y="500" width="1" height="2"/><rect x="377" y="501" width="2" height="2"/><rect x="377" y="506" width="2" height="3"/><rect x="324" y="507" width="1" height="3"/><rect x="381" y="498" width="3" height="1"/><rect x="374" y="500" width="3" height="3"/><rect x="350" y="499" width="1" height="3"/><rect x="352" y="510" width="4" height="1"/><rect x="327" y="512" width="2" height="2"/><rect x="362" y="497" width="3" height="1"/><rect x="322" y="500" width="1" height="2"/><rect x="377" y="500" width="2" height="3"/><rect x="323" y="505" width="4" height="2"/><rect x="350" y="502" width="1" height="2"/><rect x="371" y="501" width="1" height="2"/><rect x="362" y="514" width="3" height="3"/><rect x="364" y="505" width="1" height="1"/><rect x="322" y="498" width="1" height="1"/><rect x="346" y="506" width="2" height="2"/><rect x="377" y="512" width="4" height="1"/><rect x="342" y="508" width="4" height="3"/><rect x="352" y="502" width="2" height="1"/><rect x="345" y="502" width="3" height="3"/><rect x="346" y="511" width="2" height="2"/><rect x="340" y="505" width="1" height="2"/><rect x="377" y="497" width="2" height="2"/><rect x="359" y="510" width="2" height="3"/><rect x="346" y="509" width="4" height="2"/><rect x="373" y="511" width="2" height="1"/><rect x="342" y="505" width="2" height="3"/><rect x="380" y="498" width="2" height="2"/><rect x="331" y="505" width="4" height="3"/><rect x="344" y="514" width="1" height="3"/><rect x="373" y="509" width="2" height="2"/><rect x="341" y="498" width="3" height="3"/><rect x="367" y="503" width="2" height="1"/><rect x="372" y="509" width="3" height="1"/><rect x="356" y="508" width="1" height="2"/><rect x="355" y="505" width="4" height="2"/><rect x="352" y="513" width="4" height="2"/><rect x="334" y="503" width="2" height="1"/><rect x="333" y="506" width="2" height="2"/><rect x="347" y="513" width="2" height="2"/><rect x="324" y="512" width="2" height="1"/><rect x="345" y="511" width="1" height="2"/><rect x="342" y="497" width="2" height="2"/><rect x="355" y="497" width="1" height="1"/><rect x="358" y="503" width="2" height="2"/><rect x="349" y="500" width="3" height="2"/><rect x="338" y="498" width="2" height="2"/><rect x="333" y="509" width="1" height="1"/><rect x="325" y="498" width="4" height="2"/><rect x="377" y="511" width="3" height="1"/><rect x="377" y="509" width="1" height="1"/><rect x="338" y="507" width="4" height="2"/><rect x="363" y="499" width="4" height="3"/><rect x="333" y="511" width="2" height="2"/><rect x="337" y="504" width="2" height="1"/><rect x="325" y="514" width="1" height="1"/><rect x="338" y="513" width="3" height="1"/><rect x="328" y="501" width="2" height="1"/><rect x="401" y="521" width="2" height="3"/><rect x="419" y="520" width="1" height="3"/><rect x="405" y="511" width="2" height="3"/><rect x="398" y="511" width="3" height="3"/><rect x="400" y="514" width="2" height="2"/><rect x="416" y="500" width="3" height="2"/><rect x="420" y="501" width="2" height="2"/><rect x="397" y="519" width="2" height="2"/><rect x="419" y="514" width="1" height="3"/><rect x="421" y="500" width="1" height="3"/><rect x="405" y="510" width="2" height="3"/><rect x="398" y="520" width="2" height="2"/><rect x="405" y="507" width="1" height="2"/><rect x="417" y="514" width="4" height="2"/><rect x="409" y="504" width="2" height="3"/><rect x="408" y="507" width="2" height="1"/><rect x="403" y="518" width="2" height="2"/><rect x="420" y="505" width="2" height="3"/><rect x="398" y="510" width="3" height="3"/><rect x="398" y="504" width="4" height="1"/><rect x="415" y="521" width="2" height="3"/><rect x="421" y="509" width="1" height="2"/><rect x="419" y="506" width="2" height="3"/><rect x="403" y="507" width="2" height="1"/><rect x="407" y="509" width="3" height="2"/><rect x="396" y="509" width="2" height="1"/><rect x="409" y="516" width="2" height="2"/><rect x="409" y="500" width="4" height="2"/><rect x="400" y="511" width="3" height="1"/><rect x="408" y="506" width="2" height="2"/><rect x="399" y="505" width="4" height="2"/><rect x="417" y="505" width="2" height="1"/><rect x="421" y="502" width="4" height="3"/><rect x="419" y="508" width="2" height="2"/><rect x="399" y="519" width="2" height="2"/><rect x="401" y="500" width="1" height="3"/><rect x="421" y="501" width="4" height="2"/><rect x="405" y="509" width="3" height="1"/><rect x="395" y="513" width="3" height="2"/><rect x="403" y="507" width="2" height="2"/><rect x="396" y="505" width="2" height="1"/><rect x="406" y="516" width="3" height="1"/><rect x="398" y="511" width="2" height="2"/><rect x="413" y="501" width="2" height="1"/><rect x="418" y="515" width="3" height="1"/><rect x="411" y="517" width="2" height="1"/><rect x="402" y="502" width="2" height="2"/><rect x="400" y="503" width="2" height="2"/><rect x="412" y="500" width="1" height="1"/><rect x="417" y="506" width="2" height="1"/><rect x="421" y="519" width="4" height="3"/><rect x="411" y="507" width="3" height="1"/><rect x="406" y="503" width="2" height="1"/><rect x="322" y="516" width="3" height="3"/><rect x="342" y="523" width="2" height="1"/><rect x="312" y="516" width="3" height="2"/><rect x="339" y="524" width="2" height="2"/><rect x="341" y="522" width="3" height="2"/><rect x="357" y="515" width="3" height="3"/><rect x="343" y="524" width="4" height="1"/><rect x="330" y="515" width="2" height="2"/><rect x="330" y="518" width="2" height="3"/><rect x="358" y="524" width="2" height="3"/><rect x="359" y="523" width="1" height="2"/><rect x="338" y="517" width="2" height="2"/><rect x="305" y="520" width="1" height="2"/><rect x="309" y="520" width="3" height="2"/><rect x="306" y="518" width="2" height="3"/><rect x="330" y="522" width="1" height="1"/><rect x="344" y="519" width="4" height="2"/><rect x="345" y="523" width="1" height="1"/><rect x="321" y="516" width="4" height="1"/><rect x="332" y="518" width="1" height="2"/><rect x="312" y="519" width="2" height="2"/><rect x="302" y="361" width="4" height="2"/><rect x="301" y="368" width="4" height="2"/><rect x="313" y="362" width="4" height="2"/><rect x="308" y="367" width="4" height="2"/><rect x="307" y="364" width="1" height="2"/><rect x="313" y="370" width="4" height="2"/><rect x="311" y="364" width="4" height="2"/><rect x="313" y="369" width="2" height="3"/><rect x="314" y="365" width="1" height="2"/><rect x="309" y="364" width="2" height="3"/><rect x="317" y="367" width="1" height="2"/><rect x="304" y="364" width="2" height="2"/><rect x="314" y="365" width="2" height="2"/><rect x="308" y="361" width="1" height="2"/><rect x="316" y="362" width="4" height="2"/><rect x="313" y="371" width="1" height="3"/><rect x="313" y="366" width="1" height="2"/><rect x="303" y="367" width="2" height="2"/><rect x="303" y="371" width="2" height="2"/><rect x="315" y="362" width="3" height="2"/><rect x="303" y="367" width="1" height="1"/><rect x="326" y="370" width="1" height="3"/><rect x="324" y="370" width="2" height="3"/><rect x="311" y="360" width="3" height="2"/><rect x="310" y="357" width="2" height="3"/><rect x="315" y="361" width="4" height="3"/><rect x="309" y="353" width="3" height="3"/><rect x="313" y="357" width="2" height="2"/><rect x="303" y="359" width="4" height="3"/><rect x="317" y="356" width="1" height="2"/><rect x="306" y="358" width="2" height="3"/><rect x="299" y="353" width="1" height="2"/><rect x="317" y="394" width="2" height="2"/><rect x="316" y="396" width="3" height="3"/><rect x="311" y="394" width="2" height="1"/><rect x="318" y="397" width="2" height="3"/><rect x="299" y="397" width="1" height="2"/><rect x="302" y="393" width="2" height="3"/><rect x="319" y="395" width="4" height="2"/><rect x="327" y="390" width="3" height="3"/><rect x="311" y="394" width="4" height="2"/><rect x="321" y="395" width="1" height="2"/><rect x="310" y="392" width="2" height="1"/><rect x="325" y="391" width="4" height="2"/><rect x="302" y="397" width="2" height="2"/><rect x="325" y="395" width="3" height="2"/><rect x="315" y="391" width="4" height="2"/><rect x="315" y="390" width="3" height="2"/><rect x="300" y="397" width="4" height="1"/><rect x="310" y="396" width="1" height="3"/><rect x="299" y="399" width="1" height="2"/><rect x="321" y="398" width="4" height="1"/><rect x="302" y="396" width="1" height="1"/><rect x="305" y="389" width="3" height="2"/><rect x="326" y="397" width="4" height="2"/><rect x="317" y="390" width="3" height="1"/><rect x="303" y="389" width="4" height="1"/><rect x="299" y="388" width="1" height="2"/><rect x="315" y="394" width="3" height="3"/><rect x="324" y="399" width="1" height="1"/><rect x="320" y="399" width="4" height="2"/><rect x="303" y="398" width="2" height="2"/><rect x="307" y="389" width="1" height="2"/><rect x="319" y="388" width="4" height="1"/><rect x="310" y="390" width="3" height="3"/><rect x="299" y="387" width="2" height="3"/><rect x="317" y="399" width="1" height="3"/><rect x="300" y="396" width="2" height="2"/><rect x="306" y="387" width="2" height="2"/><rect x="309" y="387" width="3" height="2"/><rect x="312" y="396" width="2" height="3"/><rect x="301" y="390" width="3" height="2"/><rect x="312" y="391" width="3" height="3"/><rect x="299" y="399" width="2" height="1"/><rect x="310" y="382" width="2" height="3"/><rect x="310" y="380" width="2" height="3"/><rect x="322" y="385" width="1" height="2"/><rect x="322" y="386" width="2" height="3"/><rect x="325" y="381" width="1" height="3"/><rect x="312" y="386" width="2" height="3"/><rect x="314" y="385" width="2" height="3"/><rect x="306" y="384" width="1" height="2"/><rect x="312" y="382" width="1" height="2"/><rect x="322" y="387" width="3" height="2"/><polygon points="353.1,290.5 358.3,289.2 361.7,290.1 361.7,298.3 359.1,296.6 357.4,294.8 354.0,294.8"/><polygon points="372.1,300.9 375.5,300.0 378.9,301.7 380.7,303.4 375.5,304.3 372.9,302.6"/><polygon points="400.5,312.1 403.1,310.3 405.6,309.5 408.7,311.2 408.2,314.6 404.8,315.9 402.2,314.6"/><polygon points="401.3,297.4 403.9,296.6 404.8,298.3 404.8,302.6 402.6,301.7 400.5,300.0"/><polygon points="385.8,328.4 389.3,328.4 389.7,332.7 385.8,332.7"/><polygon points="395.3,328.4 398.8,328.0 399.6,332.7 395.3,332.7"/><polygon points="370.3,335.7 372.9,334.4 375.5,334.9 375.1,337.9 373.8,339.6 371.6,339.6 370.3,337.9"/><polygon points="385.0,330.1 389.3,330.1 391.0,332.7 392.7,335.3 392.3,337.5 390.1,337.9 388.4,336.2 385.8,334.4"/><polygon points="396.2,330.6 400.0,330.6 399.6,332.7 397.0,332.7"/><polygon points="365.2,337.0 367.3,337.0 367.8,338.8 366.0,339.6 365.2,338.8"/></g></mask></defs><g mask="url(#dm)"><g filter="url(#bl)"><rect x="290" y="17" width="8" height="8" fill="#ffeea2"/><rect x="298" y="17" width="8" height="8" fill="#ffeea2"/><rect x="306" y="17" width="8" height="8" fill="#ffeea2"/><rect x="314" y="17" width="8" height="8" fill="#ffeea2"/><rect x="322" y="17" width="8" height="8" fill="#ffeea2"/><rect x="330" y="17" width="8" height="8" fill="#ffeea2"/><rect x="338" y="17" width="8" height="8" fill="#ffeea2"/><rect x="346" y="17" width="8" height="8" fill="#ffeea2"/><rect x="354" y="17" width="8" height="8" fill="#ffeea2"/><rect x="362" y="17" width="8" height="8" fill="#ffeea2"/><rect x="370" y="17" width="8" height="8" fill="#ffeea2"/><rect x="378" y="17" width="8" height="8" fill="#ffeea2"/><rect x="386" y="17" width="8" height="8" fill="#ffeea2"/><rect x="394" y="17" width="8" height="8" fill="#ffeea2"/><rect x="402" y="17" width="8" height="8" fill="#ffeea2"/><rect x="410" y="17" width="8" height="8" fill="#ffeea2"/><rect x="418" y="17" width="8" height="8" fill="#ffeea2"/><rect x="426" y="17" width="8" height="8" fill="#ffeea2"/><rect x="290" y="25" width="8" height="8" fill="#ffeea2"/><rect x="298" y="25" width="8" height="8" fill="#ffeea2"/><rect x="306" y="25" width="8" height="8" fill="#ffeea2"/><rect x="314" y="25" width="8" height="8" fill="#ffeea2"/><rect x="322" y="25" width="8" height="8" fill="#ffeea2"/><rect x="330" y="25" width="8" height="8" fill="#ffeea2"/><rect x="338" y="25" width="8" height="8" fill="#ffeea2"/><rect x="346" y="25" width="8" height="8" fill="#ffeea2"/><rect x="354" y="25" width="8" height="8" fill="#ffeea2"/><rect x="362" y="25" width="8" height="8" fill="#ffeea2"/><rect x="370" y="25" width="8" height="8" fill="#ffeea2"/><rect x="378" y="25" width="8" height="8" fill="#ffeea2"/><rect x="386" y="25" width="8" height="8" fill="#ffeea2"/><rect x="394" y="25" width="8" height="8" fill="#ffeea2"/><rect x="402" y="25" width="8" height="8" fill="#ffeea2"/><rect x="410" y="25" width="8" height="8" fill="#ffeea2"/><rect x="418" y="25" width="8" height="8" fill="#ffeea2"/><rect x="426" y="25" width="8" height="8" fill="#ffeea2"/><rect x="290" y="33" width="8" height="8" fill="#ffeea2"/><rect x="298" y="33" width="8" height="8" fill="#ffeea2"/><rect x="306" y="33" width="8" height="8" fill="#ffeea2"/><rect x="314" y="33" width="8" height="8" fill="#ffeea2"/><rect x="322" y="33" width="8" height="8" fill="#ffeea2"/><rect x="330" y="33" width="8" height="8" fill="#ffeea2"/><rect x="338" y="33" width="8" height="8" fill="#ffeea2"/><rect x="346" y="33" width="8" height="8" fill="#ffeea2"/><rect x="354" y="33" width="8" height="8" fill="#ffeea2"/><rect x="362" y="33" width="8" height="8" fill="#ffeea2"/><rect x="370" y="33" width="8" height="8" fill="#ffeea2"/><rect x="378" y="33" width="8" height="8" fill="#ffeea2"/><rect x="386" y="33" width="8" height="8" fill="#ffeea2"/><rect x="394" y="33" width="8" height="8" fill="#ffeea2"/><rect x="402" y="33" width="8" height="8" fill="#ffeea2"/><rect x="410" y="33" width="8" height="8" fill="#ffeea2"/><rect x="418" y="33" width="8" height="8" fill="#ffeea2"/><rect x="426" y="33" width="8" height="8" fill="#ffeea2"/><rect x="290" y="41" width="8" height="8" fill="#ffeea2"/><rect x="298" y="41" width="8" height="8" fill="#ffeea2"/><rect x="306" y="41" width="8" height="8" fill="#ffeea2"/><rect x="314" y="41" width="8" height="8" fill="#ffeea2"/><rect x="322" y="41" width="8" height="8" fill="#ffeea2"/><rect x="330" y="41" width="8" height="8" fill="#ffeea2"/><rect x="338" y="41" width="8" height="8" fill="#ffeea2"/><rect x="346" y="41" width="8" height="8" fill="#ffeea2"/><rect x="354" y="41" width="8" height="8" fill="#ffeea2"/><rect x="362" y="41" width="8" height="8" fill="#ffeea2"/><rect x="370" y="41" width="8" height="8" fill="#ffeea2"/><rect x="378" y="41" width="8" height="8" fill="#ffeea2"/><rect x="386" y="41" width="8" height="8" fill="#ffeea2"/><rect x="394" y="41" width="8" height="8" fill="#ffeea2"/><rect x="402" y="41" width="8" height="8" fill="#ffeea2"/><rect x="410" y="41" width="8" height="8" fill="#ffeea2"/><rect x="418" y="41" width="8" height="8" fill="#ffeea2"/><rect x="426" y="41" width="8" height="8" fill="#ffeea2"/><rect x="290" y="49" width="8" height="8" fill="#ffeea2"/><rect x="298" y="49" width="8" height="8" fill="#ffeea2"/><rect x="306" y="49" width="8" height="8" fill="#ffeea2"/><rect x="314" y="49" width="8" height="8" fill="#ffeea2"/><rect x="322" y="49" width="8" height="8" fill="#ffeea2"/><rect x="330" y="49" width="8" height="8" fill="#ffeea2"/><rect x="338" y="49" width="8" height="8" fill="#ffeea2"/><rect x="346" y="49" width="8" height="8" fill="#ffeea2"/><rect x="354" y="49" width="8" height="8" fill="#ffeea2"/><rect x="362" y="49" width="8" height="8" fill="#ffeea2"/><rect x="370" y="49" width="8" height="8" fill="#ffeea2"/><rect x="378" y="49" width="8" height="8" fill="#ffeea2"/><rect x="386" y="49" width="8" height="8" fill="#ffeea2"/><rect x="394" y="49" width="8" height="8" fill="#ffeea2"/><rect x="402" y="49" width="8" height="8" fill="#ffeea2"/><rect x="410" y="49" width="8" height="8" fill="#ffeea2"/><rect x="418" y="49" width="8" height="8" fill="#ffeea2"/><rect x="426" y="49" width="8" height="8" fill="#ffeea2"/><rect x="290" y="57" width="8" height="8" fill="#ffeea2"/><rect x="298" y="57" width="8" height="8" fill="#ffeea2"/><rect x="306" y="57" width="8" height="8" fill="#ffeea2"/><rect x="314" y="57" width="8" height="8" fill="#ffeea2"/><rect x="322" y="57" width="8" height="8" fill="#ffeea2"/><rect x="330" y="57" width="8" height="8" fill="#ffeea2"/><rect x="338" y="57" width="8" height="8" fill="#ffeea2"/><rect x="346" y="57" width="8" height="8" fill="#ffeea2"/><rect x="354" y="57" width="8" height="8" fill="#ffeea2"/><rect x="362" y="57" width="8" height="8" fill="#ffeea2"/><rect x="370" y="57" width="8" height="8" fill="#ffeea2"/><rect x="378" y="57" width="8" height="8" fill="#ffeea2"/><rect x="386" y="57" width="8" height="8" fill="#ffeea2"/><rect x="394" y="57" width="8" height="8" fill="#ffeea2"/><rect x="402" y="57" width="8" height="8" fill="#ffeea2"/><rect x="410" y="57" width="8" height="8" fill="#ffeea2"/><rect x="418" y="57" width="8" height="8" fill="#ffeea2"/><rect x="426" y="57" width="8" height="8" fill="#ffeea2"/><rect x="290" y="65" width="8" height="8" fill="#ffeea2"/><rect x="298" y="65" width="8" height="8" fill="#ffeea2"/><rect x="306" y="65" width="8" height="8" fill="#ffeea2"/><rect x="314" y="65" width="8" height="8" fill="#ffeea2"/><rect x="322" y="65" width="8" height="8" fill="#ffeea2"/><rect x="330" y="65" width="8" height="8" fill="#ffeea2"/><rect x="338" y="65" width="8" height="8" fill="#ffeea2"/><rect x="346" y="65" width="8" height="8" fill="#ffeea2"/><rect x="354" y="65" width="8" height="8" fill="#ffeea2"/><rect x="362" y="65" width="8" height="8" fill="#ffeea2"/><rect x="370" y="65" width="8" height="8" fill="#ffeea2"/><rect x="378" y="65" width="8" height="8" fill="#ffeea2"/><rect x="386" y="65" width="8" height="8" fill="#ffeea2"/><rect x="394" y="65" width="8" height="8" fill="#ffeea2"/><rect x="402" y="65" width="8" height="8" fill="#ffeea2"/><rect x="410" y="65" width="8" height="8" fill="#ffeea2"/><rect x="418" y="65" width="8" height="8" fill="#ffeea2"/><rect x="426" y="65" width="8" height="8" fill="#ffeea2"/><rect x="290" y="73" width="8" height="8" fill="#ffeea2"/><rect x="298" y="73" width="8" height="8" fill="#ffeea2"/><rect x="306" y="73" width="8" height="8" fill="#ffeea2"/><rect x="314" y="73" width="8" height="8" fill="#ffeea2"/><rect x="322" y="73" width="8" height="8" fill="#ffeea2"/><rect x="330" y="73" width="8" height="8" fill="#ffeea2"/><rect x="338" y="73" width="8" height="8" fill="#ffeea2"/><rect x="346" y="73" width="8" height="8" fill="#ffeea2"/><rect x="354" y="73" width="8" height="8" fill="#ffeea2"/><rect x="362" y="73" width="8" height="8" fill="#ffeea2"/><rect x="370" y="73" width="8" height="8" fill="#ffeea2"/><rect x="378" y="73" width="8" height="8" fill="#ffeea2"/><rect x="386" y="73" width="8" height="8" fill="#ffeea2"/><rect x="394" y="73" width="8" height="8" fill="#ffeea2"/><rect x="402" y="73" width="8" height="8" fill="#ffeea2"/><rect x="410" y="73" width="8" height="8" fill="#ffeea2"/><rect x="418" y="73" width="8" height="8" fill="#ffeea2"/><rect x="426" y="73" width="8" height="8" fill="#ffeea2"/><rect x="290" y="81" width="8" height="8" fill="#ffeea2"/><rect x="298" y="81" width="8" height="8" fill="#ffeea2"/><rect x="306" y="81" width="8" height="8" fill="#ffeea2"/><rect x="314" y="81" width="8" height="8" fill="#ffeea2"/><rect x="322" y="81" width="8" height="8" fill="#ffeea2"/><rect x="330" y="81" width="8" height="8" fill="#ffeea2"/><rect x="338" y="81" width="8" height="8" fill="#ffeea2"/><rect x="346" y="81" width="8" height="8" fill="#ffeea2"/><rect x="354" y="81" width="8" height="8" fill="#ffeea2"/><rect x="362" y="81" width="8" height="8" fill="#ffeea2"/><rect x="370" y="81" width="8" height="8" fill="#ffeea2"/><rect x="378" y="81" width="8" height="8" fill="#ffeea2"/><rect x="386" y="81" width="8" height="8" fill="#ffeea2"/><rect x="394" y="81" width="8" height="8" fill="#ffeea2"/><rect x="402" y="81" width="8" height="8" fill="#ffeea2"/><rect x="410" y="81" width="8" height="8" fill="#ffeea2"/><rect x="418" y="81" width="8" height="8" fill="#ffeea2"/><rect x="426" y="81" width="8" height="8" fill="#ffeea2"/><rect x="290" y="89" width="8" height="8" fill="#ffeea2"/><rect x="298" y="89" width="8" height="8" fill="#ffeea2"/><rect x="306" y="89" width="8" height="8" fill="#ffeea2"/><rect x="314" y="89" width="8" height="8" fill="#ffeea2"/><rect x="322" y="89" width="8" height="8" fill="#ffeea2"/><rect x="330" y="89" width="8" height="8" fill="#ffeea2"/><rect x="338" y="89" width="8" height="8" fill="#ffeea2"/><rect x="346" y="89" width="8" height="8" fill="#ffeea2"/><rect x="354" y="89" width="8" height="8" fill="#ffeea2"/><rect x="362" y="89" width="8" height="8" fill="#ffeea2"/><rect x="370" y="89" width="8" height="8" fill="#ffeea2"/><rect x="378" y="89" width="8" height="8" fill="#ffeea2"/><rect x="386" y="89" width="8" height="8" fill="#ffeea2"/><rect x="394" y="89" width="8" height="8" fill="#ffeea2"/><rect x="402" y="89" width="8" height="8" fill="#ffeea2"/><rect x="410" y="89" width="8" height="8" fill="#ffeea2"/><rect x="418" y="89" width="8" height="8" fill="#ffeea2"/><rect x="426" y="89" width="8" height="8" fill="#ffeea2"/><rect x="290" y="97" width="8" height="8" fill="#ffeea2"/><rect x="298" y="97" width="8" height="8" fill="#ffeea2"/><rect x="306" y="97" width="8" height="8" fill="#ffeea2"/><rect x="314" y="97" width="8" height="8" fill="#ffeea2"/><rect x="322" y="97" width="8" height="8" fill="#ffeea2"/><rect x="330" y="97" width="8" height="8" fill="#ffeea2"/><rect x="338" y="97" width="8" height="8" fill="#ffeea2"/><rect x="346" y="97" width="8" height="8" fill="#ffeea2"/><rect x="354" y="97" width="8" height="8" fill="#ffeea2"/><rect x="362" y="97" width="8" height="8" fill="#ffeea2"/><rect x="370" y="97" width="8" height="8" fill="#ffeea2"/><rect x="378" y="97" width="8" height="8" fill="#ffeea2"/><rect x="386" y="97" width="8" height="8" fill="#ffeea2"/><rect x="394" y="97" width="8" height="8" fill="#ffeea2"/><rect x="402" y="97" width="8" height="8" fill="#ffeea2"/><rect x="410" y="97" width="8" height="8" fill="#ffeea2"/><rect x="418" y="97" width="8" height="8" fill="#ffeea2"/><rect x="426" y="97" width="8" height="8" fill="#ffeea2"/><rect x="290" y="105" width="8" height="8" fill="#ffeea2"/><rect x="298" y="105" width="8" height="8" fill="#ffeea2"/><rect x="306" y="105" width="8" height="8" fill="#ffeea2"/><rect x="314" y="105" width="8" height="8" fill="#ffeea2"/><rect x="322" y="105" width="8" height="8" fill="#ffeea2"/><rect x="330" y="105" width="8" height="8" fill="#ffeea2"/><rect x="338" y="105" width="8" height="8" fill="#ffeea2"/><rect x="346" y="105" width="8" height="8" fill="#ffeea2"/><rect x="354" y="105" width="8" height="8" fill="#ffeea2"/><rect x="362" y="105" width="8" height="8" fill="#ffeea2"/><rect x="370" y="105" width="8" height="8" fill="#ffeea2"/><rect x="378" y="105" width="8" height="8" fill="#ffeea2"/><rect x="386" y="105" width="8" height="8" fill="#ffeea2"/><rect x="394" y="105" width="8" height="8" fill="#ffeea2"/><rect x="402" y="105" width="8" height="8" fill="#ffeea2"/><rect x="410" y="105" width="8" height="8" fill="#ffeea2"/><rect x="418" y="105" width="8" height="8" fill="#ffeea2"/><rect x="426" y="105" width="8" height="8" fill="#ffeea2"/><rect x="290" y="113" width="8" height="8" fill="#ffeea2"/><rect x="298" y="113" width="8" height="8" fill="#ffeea2"/><rect x="306" y="113" width="8" height="8" fill="#ffeea2"/><rect x="314" y="113" width="8" height="8" fill="#ffeea2"/><rect x="322" y="113" width="8" height="8" fill="#ffeea2"/><rect x="330" y="113" width="8" height="8" fill="#ffeea2"/><rect x="338" y="113" width="8" height="8" fill="#ffeea2"/><rect x="346" y="113" width="8" height="8" fill="#ffeea2"/><rect x="354" y="113" width="8" height="8" fill="#ffeea2"/><rect x="362" y="113" width="8" height="8" fill="#ffeea2"/><rect x="370" y="113" width="8" height="8" fill="#ffeea2"/><rect x="378" y="113" width="8" height="8" fill="#ffeea2"/><rect x="386" y="113" width="8" height="8" fill="#ffeea2"/><rect x="394" y="113" width="8" height="8" fill="#ffeea2"/><rect x="402" y="113" width="8" height="8" fill="#ffeea2"/><rect x="410" y="113" width="8" height="8" fill="#ffeea2"/><rect x="418" y="113" width="8" height="8" fill="#ffeea2"/><rect x="426" y="113" width="8" height="8" fill="#ffeea2"/><rect x="290" y="121" width="8" height="8" fill="#ffeea2"/><rect x="298" y="121" width="8" height="8" fill="#ffeea2"/><rect x="306" y="121" width="8" height="8" fill="#ffeea2"/><rect x="314" y="121" width="8" height="8" fill="#ffeea2"/><rect x="322" y="121" width="8" height="8" fill="#ffeea2"/><rect x="330" y="121" width="8" height="8" fill="#ffeea2"/><rect x="338" y="121" width="8" height="8" fill="#ffeea2"/><rect x="346" y="121" width="8" height="8" fill="#ffeea2"/><rect x="354" y="121" width="8" height="8" fill="#ffeea2"/><rect x="362" y="121" width="8" height="8" fill="#ffeea2"/><rect x="370" y="121" width="8" height="8" fill="#ffeea2"/><rect x="378" y="121" width="8" height="8" fill="#ffeea2"/><rect x="386" y="121" width="8" height="8" fill="#ffeea2"/><rect x="394" y="121" width="8" height="8" fill="#ffeea2"/><rect x="402" y="121" width="8" height="8" fill="#ffeea2"/><rect x="410" y="121" width="8" height="8" fill="#ffeea2"/><rect x="418" y="121" width="8" height="8" fill="#ffeea2"/><rect x="426" y="121" width="8" height="8" fill="#ffeea2"/><rect x="290" y="129" width="8" height="8" fill="#ffeea2"/><rect x="298" y="129" width="8" height="8" fill="#ffeea2"/><rect x="306" y="129" width="8" height="8" fill="#ffeea2"/><rect x="314" y="129" width="8" height="8" fill="#ffeea2"/><rect x="322" y="129" width="8" height="8" fill="#ffeea2"/><rect x="330" y="129" width="8" height="8" fill="#ffeea2"/><rect x="338" y="129" width="8" height="8" fill="#ffeea2"/><rect x="346" y="129" width="8" height="8" fill="#ffeea2"/><rect x="354" y="129" width="8" height="8" fill="#ffeea2"/><rect x="362" y="129" width="8" height="8" fill="#ffeea2"/><rect x="370" y="129" width="8" height="8" fill="#ffeea2"/><rect x="378" y="129" width="8" height="8" fill="#ffeea2"/><rect x="386" y="129" width="8" height="8" fill="#ffeea2"/><rect x="394" y="129" width="8" height="8" fill="#ffeea2"/><rect x="402" y="129" width="8" height="8" fill="#ffeea2"/><rect x="410" y="129" width="8" height="8" fill="#ffeea2"/><rect x="418" y="129" width="8" height="8" fill="#ffeea2"/><rect x="426" y="129" width="8" height="8" fill="#ffeea2"/><rect x="290" y="137" width="8" height="8" fill="#ffeea2"/><rect x="298" y="137" width="8" height="8" fill="#ffeea2"/><rect x="306" y="137" width="8" height="8" fill="#ffeea2"/><rect x="314" y="137" width="8" height="8" fill="#ffeea2"/><rect x="322" y="137" width="8" height="8" fill="#ffeea2"/><rect x="330" y="137" width="8" height="8" fill="#ffeea2"/><rect x="338" y="137" width="8" height="8" fill="#ffeea2"/><rect x="346" y="137" width="8" height="8" fill="#ffeea2"/><rect x="354" y="137" width="8" height="8" fill="#ffeea2"/><rect x="362" y="137" width="8" height="8" fill="#ffeea2"/><rect x="370" y="137" width="8" height="8" fill="#ffeea2"/><rect x="378" y="137" width="8" height="8" fill="#ffeea2"/><rect x="386" y="137" width="8" height="8" fill="#ffeea2"/><rect x="394" y="137" width="8" height="8" fill="#ffeea2"/><rect x="402" y="137" width="8" height="8" fill="#ffeea2"/><rect x="410" y="137" width="8" height="8" fill="#ffeea2"/><rect x="418" y="137" width="8" height="8" fill="#ffeea2"/><rect x="426" y="137" width="8" height="8" fill="#ffeea2"/><rect x="290" y="145" width="8" height="8" fill="#ffeea2"/><rect x="298" y="145" width="8" height="8" fill="#ffeea2"/><rect x="306" y="145" width="8" height="8" fill="#ffeea2"/><rect x="314" y="145" width="8" height="8" fill="#ffeea2"/><rect x="322" y="145" width="8" height="8" fill="#ffeea2"/><rect x="330" y="145" width="8" height="8" fill="#ffeea2"/><rect x="338" y="145" width="8" height="8" fill="#ffeea2"/><rect x="346" y="145" width="8" height="8" fill="#ffeea2"/><rect x="354" y="145" width="8" height="8" fill="#ffeea2"/><rect x="362" y="145" width="8" height="8" fill="#ffeea2"/><rect x="370" y="145" width="8" height="8" fill="#ffeea2"/><rect x="378" y="145" width="8" height="8" fill="#ffeea2"/><rect x="386" y="145" width="8" height="8" fill="#ffeea2"/><rect x="394" y="145" width="8" height="8" fill="#ffeea2"/><rect x="402" y="145" width="8" height="8" fill="#ffeea2"/><rect x="410" y="145" width="8" height="8" fill="#ffeea2"/><rect x="418" y="145" width="8" height="8" fill="#ffeea2"/><rect x="426" y="145" width="8" height="8" fill="#ffeea2"/><rect x="290" y="153" width="8" height="8" fill="#ffeda1"/><rect x="298" y="153" width="8" height="8" fill="#ffeda1"/><rect x="306" y="153" width="8" height="8" fill="#ffeda1"/><rect x="314" y="153" width="8" height="8" fill="#ffeda1"/><rect x="322" y="153" width="8" height="8" fill="#ffeda1"/><rect x="330" y="153" width="8" height="8" fill="#ffeda1"/><rect x="338" y="153" width="8" height="8" fill="#ffeda1"/><rect x="346" y="153" width="8" height="8" fill="#ffeda1"/><rect x="354" y="153" width="8" height="8" fill="#ffeda1"/><rect x="362" y="153" width="8" height="8" fill="#ffeda1"/><rect x="370" y="153" width="8" height="8" fill="#ffeda1"/><rect x="378" y="153" width="8" height="8" fill="#ffeda1"/><rect x="386" y="153" width="8" height="8" fill="#ffeda1"/><rect x="394" y="153" width="8" height="8" fill="#ffeda1"/><rect x="402" y="153" width="8" height="8" fill="#ffeda1"/><rect x="410" y="153" width="8" height="8" fill="#ffeda1"/><rect x="418" y="153" width="8" height="8" fill="#ffeda1"/><rect x="426" y="153" width="8" height="8" fill="#ffeda1"/><rect x="290" y="161" width="8" height="8" fill="#ffed9f"/><rect x="298" y="161" width="8" height="8" fill="#ffed9f"/><rect x="306" y="161" width="8" height="8" fill="#ffed9f"/><rect x="314" y="161" width="8" height="8" fill="#ffed9f"/><rect x="322" y="161" width="8" height="8" fill="#ffed9f"/><rect x="330" y="161" width="8" height="8" fill="#ffed9f"/><rect x="338" y="161" width="8" height="8" fill="#ffed9f"/><rect x="346" y="161" width="8" height="8" fill="#ffed9f"/><rect x="354" y="161" width="8" height="8" fill="#ffed9f"/><rect x="362" y="161" width="8" height="8" fill="#ffed9f"/><rect x="370" y="161" width="8" height="8" fill="#ffed9f"/><rect x="378" y="161" width="8" height="8" fill="#ffed9f"/><rect x="386" y="161" width="8" height="8" fill="#ffed9f"/><rect x="394" y="161" width="8" height="8" fill="#ffed9f"/><rect x="402" y="161" width="8" height="8" fill="#ffed9f"/><rect x="410" y="161" width="8" height="8" fill="#ffed9f"/><rect x="418" y="161" width="8" height="8" fill="#ffed9f"/><rect x="426" y="161" width="8" height="8" fill="#ffed9f"/><rect x="290" y="169" width="8" height="8" fill="#ffec9e"/><rect x="298" y="169" width="8" height="8" fill="#ffec9e"/><rect x="306" y="169" width="8" height="8" fill="#ffec9e"/><rect x="314" y="169" width="8" height="8" fill="#ffec9e"/><rect x="322" y="169" width="8" height="8" fill="#ffec9e"/><rect x="330" y="169" width="8" height="8" fill="#ffec9e"/><rect x="338" y="169" width="8" height="8" fill="#ffec9e"/><rect x="346" y="169" width="8" height="8" fill="#ffec9e"/><rect x="354" y="169" width="8" height="8" fill="#ffec9e"/><rect x="362" y="169" width="8" height="8" fill="#ffec9e"/><rect x="370" y="169" width="8" height="8" fill="#ffec9e"/><rect x="378" y="169" width="8" height="8" fill="#ffec9e"/><rect x="386" y="169" width="8" height="8" fill="#ffec9e"/><rect x="394" y="169" width="8" height="8" fill="#ffec9e"/><rect x="402" y="169" width="8" height="8" fill="#ffec9e"/><rect x="410" y="169" width="8" height="8" fill="#ffec9e"/><rect x="418" y="169" width="8" height="8" fill="#ffec9e"/><rect x="426" y="169" width="8" height="8" fill="#ffec9e"/><rect x="290" y="177" width="8" height="8" fill="#ffec9e"/><rect x="298" y="177" width="8" height="8" fill="#ffec9e"/><rect x="306" y="177" width="8" height="8" fill="#ffec9e"/><rect x="314" y="177" width="8" height="8" fill="#ffec9e"/><rect x="322" y="177" width="8" height="8" fill="#ffec9e"/><rect x="330" y="177" width="8" height="8" fill="#ffec9e"/><rect x="338" y="177" width="8" height="8" fill="#ffec9e"/><rect x="346" y="177" width="8" height="8" fill="#ffec9e"/><rect x="354" y="177" width="8" height="8" fill="#ffec9e"/><rect x="362" y="177" width="8" height="8" fill="#ffec9e"/><rect x="370" y="177" width="8" height="8" fill="#ffec9e"/><rect x="378" y="177" width="8" height="8" fill="#ffec9e"/><rect x="386" y="177" width="8" height="8" fill="#ffec9e"/><rect x="394" y="177" width="8" height="8" fill="#ffec9e"/><rect x="402" y="177" width="8" height="8" fill="#ffec9e"/><rect x="410" y="177" width="8" height="8" fill="#ffec9e"/><rect x="418" y="177" width="8" height="8" fill="#ffec9e"/><rect x="426" y="177" width="8" height="8" fill="#ffec9e"/><rect x="290" y="185" width="8" height="8" fill="#ffec9d"/><rect x="298" y="185" width="8" height="8" fill="#ffec9d"/><rect x="306" y="185" width="8" height="8" fill="#ffec9d"/><rect x="314" y="185" width="8" height="8" fill="#ffec9d"/><rect x="322" y="185" width="8" height="8" fill="#ffec9d"/><rect x="330" y="185" width="8" height="8" fill="#ffec9d"/><rect x="338" y="185" width="8" height="8" fill="#ffec9d"/><rect x="346" y="185" width="8" height="8" fill="#ffec9d"/><rect x="354" y="185" width="8" height="8" fill="#ffec9d"/><rect x="362" y="185" width="8" height="8" fill="#ffec9d"/><rect x="370" y="185" width="8" height="8" fill="#ffec9d"/><rect x="378" y="185" width="8" height="8" fill="#ffec9d"/><rect x="386" y="185" width="8" height="8" fill="#ffec9d"/><rect x="394" y="185" width="8" height="8" fill="#ffec9d"/><rect x="402" y="185" width="8" height="8" fill="#ffec9d"/><rect x="410" y="185" width="8" height="8" fill="#ffec9d"/><rect x="418" y="185" width="8" height="8" fill="#ffec9d"/><rect x="426" y="185" width="8" height="8" fill="#ffec9d"/><rect x="290" y="193" width="8" height="8" fill="#ffeb9c"/><rect x="298" y="193" width="8" height="8" fill="#ffeb9c"/><rect x="306" y="193" width="8" height="8" fill="#ffeb9c"/><rect x="314" y="193" width="8" height="8" fill="#ffeb9c"/><rect x="322" y="193" width="8" height="8" fill="#ffeb9c"/><rect x="330" y="193" width="8" height="8" fill="#ffeb9c"/><rect x="338" y="193" width="8" height="8" fill="#ffeb9c"/><rect x="346" y="193" width="8" height="8" fill="#ffeb9c"/><rect x="354" y="193" width="8" height="8" fill="#ffeb9c"/><rect x="362" y="193" width="8" height="8" fill="#ffeb9c"/><rect x="370" y="193" width="8" height="8" fill="#ffeb9c"/><rect x="378" y="193" width="8" height="8" fill="#ffeb9c"/><rect x="386" y="193" width="8" height="8" fill="#ffeb9c"/><rect x="394" y="193" width="8" height="8" fill="#ffeb9c"/><rect x="402" y="193" width="8" height="8" fill="#ffeb9c"/><rect x="410" y="193" width="8" height="8" fill="#ffeb9c"/><rect x="418" y="193" width="8" height="8" fill="#ffeb9c"/><rect x="426" y="193" width="8" height="8" fill="#ffeb9c"/><rect x="290" y="201" width="8" height="8" fill="#ffe997"/><rect x="298" y="201" width="8" height="8" fill="#ffe997"/><rect x="306" y="201" width="8" height="8" fill="#ffe997"/><rect x="314" y="201" width="8" height="8" fill="#ffe997"/><rect x="322" y="201" width="8" height="8" fill="#ffe997"/><rect x="330" y="201" width="8" height="8" fill="#ffe997"/><rect x="338" y="201" width="8" height="8" fill="#ffe997"/><rect x="346" y="201" width="8" height="8" fill="#ffe997"/><rect x="354" y="201" width="8" height="8" fill="#ffe997"/><rect x="362" y="201" width="8" height="8" fill="#ffe997"/><rect x="370" y="201" width="8" height="8" fill="#ffe997"/><rect x="378" y="201" width="8" height="8" fill="#ffe998"/><rect x="386" y="201" width="8" height="8" fill="#ffe998"/><rect x="394" y="201" width="8" height="8" fill="#ffe998"/><rect x="402" y="201" width="8" height="8" fill="#ffe998"/><rect x="410" y="201" width="8" height="8" fill="#ffe998"/><rect x="418" y="201" width="8" height="8" fill="#ffe998"/><rect x="426" y="201" width="8" height="8" fill="#ffe998"/><rect x="290" y="209" width="8" height="8" fill="#ffe58e"/><rect x="298" y="209" width="8" height="8" fill="#ffe58e"/><rect x="306" y="209" width="8" height="8" fill="#ffe58e"/><rect x="314" y="209" width="8" height="8" fill="#ffe58e"/><rect x="322" y="209" width="8" height="8" fill="#ffe58e"/><rect x="330" y="209" width="8" height="8" fill="#ffe58e"/><rect x="338" y="209" width="8" height="8" fill="#ffe58e"/><rect x="346" y="209" width="8" height="8" fill="#ffe58e"/><rect x="354" y="209" width="8" height="8" fill="#ffe58e"/><rect x="362" y="209" width="8" height="8" fill="#ffe58f"/><rect x="370" y="209" width="8" height="8" fill="#ffe690"/><rect x="378" y="209" width="8" height="8" fill="#ffe691"/><rect x="386" y="209" width="8" height="8" fill="#ffe691"/><rect x="394" y="209" width="8" height="8" fill="#ffe691"/><rect x="402" y="209" width="8" height="8" fill="#ffe691"/><rect x="410" y="209" width="8" height="8" fill="#ffe691"/><rect x="418" y="209" width="8" height="8" fill="#ffe691"/><rect x="426" y="209" width="8" height="8" fill="#ffe691"/><rect x="290" y="217" width="8" height="8" fill="#ffe48d"/><rect x="298" y="217" width="8" height="8" fill="#ffe48d"/><rect x="306" y="217" width="8" height="8" fill="#ffe48d"/><rect x="314" y="217" width="8" height="8" fill="#ffe48d"/><rect x="322" y="217" width="8" height="8" fill="#ffe48d"/><rect x="330" y="217" width="8" height="8" fill="#ffe48e"/><rect x="338" y="217" width="8" height="8" fill="#ffe48e"/><rect x="346" y="217" width="8" height="8" fill="#ffe48e"/><rect x="354" y="217" width="8" height="8" fill="#ffe48e"/><rect x="362" y="217" width="8" height="8" fill="#ffe48e"/><rect x="370" y="217" width="8" height="8" fill="#ffe58f"/><rect x="378" y="217" width="8" height="8" fill="#ffe590"/><rect x="386" y="217" width="8" height="8" fill="#ffe590"/><rect x="394" y="217" width="8" height="8" fill="#ffe590"/><rect x="402" y="217" width="8" height="8" fill="#ffe590"/><rect x="410" y="217" width="8" height="8" fill="#ffe590"/><rect x="418" y="217" width="8" height="8" fill="#ffe590"/><rect x="426" y="217" width="8" height="8" fill="#ffe590"/><rect x="290" y="225" width="8" height="8" fill="#ffe692"/><rect x="298" y="225" width="8" height="8" fill="#ffe692"/><rect x="306" y="225" width="8" height="8" fill="#ffe692"/><rect x="314" y="225" width="8" height="8" fill="#ffe692"/><rect x="322" y="225" width="8" height="8" fill="#ffe794"/><rect x="330" y="225" width="8" height="8" fill="#ffe794"/><rect x="338" y="225" width="8" height="8" fill="#ffe794"/><rect x="346" y="225" width="8" height="8" fill="#ffe794"/><rect x="354" y="225" width="8" height="8" fill="#ffe794"/><rect x="362" y="225" width="8" height="8" fill="#ffe894"/><rect x="370" y="225" width="8" height="8" fill="#ffe895"/><rect x="378" y="225" width="8" height="8" fill="#ffe895"/><rect x="386" y="225" width="8" height="8" fill="#ffe895"/><rect x="394" y="225" width="8" height="8" fill="#ffe895"/><rect x="402" y="225" width="8" height="8" fill="#ffe895"/><rect x="410" y="225" width="8" height="8" fill="#ffe895"/><rect x="418" y="225" width="8" height="8" fill="#ffe895"/><rect x="426" y="225" width="8" height="8" fill="#ffe895"/><rect x="290" y="233" width="8" height="8" fill="#ffe793"/><rect x="298" y="233" width="8" height="8" fill="#ffe793"/><rect x="306" y="233" width="8" height="8" fill="#ffe793"/><rect x="314" y="233" width="8" height="8" fill="#ffe793"/><rect x="322" y="233" width="8" height="8" fill="#ffe895"/><rect x="330" y="233" width="8" height="8" fill="#ffe896"/><rect x="338" y="233" width="8" height="8" fill="#ffe896"/><rect x="346" y="233" width="8" height="8" fill="#ffe896"/><rect x="354" y="233" width="8" height="8" fill="#ffe896"/><rect x="362" y="233" width="8" height="8" fill="#ffe896"/><rect x="370" y="233" width="8" height="8" fill="#ffe896"/><rect x="378" y="233" width="8" height="8" fill="#ffe896"/><rect x="386" y="233" width="8" height="8" fill="#ffe897"/><rect x="394" y="233" width="8" height="8" fill="#ffe997"/><rect x="402" y="233" width="8" height="8" fill="#ffe997"/><rect x="410" y="233" width="8" height="8" fill="#ffe997"/><rect x="418" y="233" width="8" height="8" fill="#ffe997"/><rect x="426" y="233" width="8" height="8" fill="#ffe997"/><rect x="290" y="241" width="8" height="8" fill="#ffe58f"/><rect x="298" y="241" width="8" height="8" fill="#ffe58f"/><rect x="306" y="241" width="8" height="8" fill="#ffe58f"/><rect x="314" y="241" width="8" height="8" fill="#ffe590"/><rect x="322" y="241" width="8" height="8" fill="#ffe692"/><rect x="330" y="241" width="8" height="8" fill="#ffe793"/><rect x="338" y="241" width="8" height="8" fill="#ffe793"/><rect x="346" y="241" width="8" height="8" fill="#ffe793"/><rect x="354" y="241" width="8" height="8" fill="#ffe793"/><rect x="362" y="241" width="8" height="8" fill="#ffe793"/><rect x="370" y="241" width="8" height="8" fill="#ffe793"/><rect x="378" y="241" width="8" height="8" fill="#ffe793"/><rect x="386" y="241" width="8" height="8" fill="#ffe894"/><rect x="394" y="241" width="8" height="8" fill="#ffe895"/><rect x="402" y="241" width="8" height="8" fill="#ffe895"/><rect x="410" y="241" width="8" height="8" fill="#ffe895"/><rect x="418" y="241" width="8" height="8" fill="#ffe895"/><rect x="426" y="241" width="8" height="8" fill="#ffe895"/><rect x="290" y="249" width="8" height="8" fill="#fee38a"/><rect x="298" y="249" width="8" height="8" fill="#fee38a"/><rect x="306" y="249" width="8" height="8" fill="#fee38a"/><rect x="314" y="249" width="8" height="8" fill="#ffe38b"/><rect x="322" y="249" width="8" height="8" fill="#ffe48d"/><rect x="330" y="249" width="8" height="8" fill="#ffe58e"/><rect x="338" y="249" width="8" height="8" fill="#ffe58e"/><rect x="346" y="249" width="8" height="8" fill="#ffe58f"/><rect x="354" y="249" width="8" height="8" fill="#ffe58f"/><rect x="362" y="249" width="8" height="8" fill="#ffe58f"/><rect x="370" y="249" width="8" height="8" fill="#ffe590"/><rect x="378" y="249" width="8" height="8" fill="#ffe691"/><rect x="386" y="249" width="8" height="8" fill="#ffe793"/><rect x="394" y="249" width="8" height="8" fill="#ffe793"/><rect x="402" y="249" width="8" height="8" fill="#ffe793"/><rect x="410" y="249" width="8" height="8" fill="#ffe793"/><rect x="418" y="249" width="8" height="8" fill="#ffe793"/><rect x="426" y="249" width="8" height="8" fill="#ffe793"/><rect x="290" y="257" width="8" height="8" fill="#fedf83"/><rect x="298" y="257" width="8" height="8" fill="#fedf83"/><rect x="306" y="257" width="8" height="8" fill="#fedf83"/><rect x="314" y="257" width="8" height="8" fill="#fee085"/><rect x="322" y="257" width="8" height="8" fill="#fee288"/><rect x="330" y="257" width="8" height="8" fill="#fee289"/><rect x="338" y="257" width="8" height="8" fill="#fee289"/><rect x="346" y="257" width="8" height="8" fill="#fee28a"/><rect x="354" y="257" width="8" height="8" fill="#ffe38b"/><rect x="362" y="257" width="8" height="8" fill="#ffe48c"/><rect x="370" y="257" width="8" height="8" fill="#ffe48e"/><rect x="378" y="257" width="8" height="8" fill="#ffe58f"/><rect x="386" y="257" width="8" height="8" fill="#ffe691"/><rect x="394" y="257" width="8" height="8" fill="#ffe692"/><rect x="402" y="257" width="8" height="8" fill="#ffe692"/><rect x="410" y="257" width="8" height="8" fill="#ffe692"/><rect x="418" y="257" width="8" height="8" fill="#ffe692"/><rect x="426" y="257" width="8" height="8" fill="#ffe692"/><rect x="290" y="265" width="8" height="8" fill="#fedb7b"/><rect x="298" y="265" width="8" height="8" fill="#fedb7b"/><rect x="306" y="265" width="8" height="8" fill="#fedb7b"/><rect x="314" y="265" width="8" height="8" fill="#fedc7d"/><rect x="322" y="265" width="8" height="8" fill="#fede81"/><rect x="330" y="265" width="8" height="8" fill="#fedf83"/><rect x="338" y="265" width="8" height="8" fill="#fee084"/><rect x="346" y="265" width="8" height="8" fill="#fee186"/><rect x="354" y="265" width="8" height="8" fill="#fee188"/><rect x="362" y="265" width="8" height="8" fill="#fee289"/><rect x="370" y="265" width="8" height="8" fill="#fee38b"/><rect x="378" y="265" width="8" height="8" fill="#ffe48d"/><rect x="386" y="265" width="8" height="8" fill="#ffe58e"/><rect x="394" y="265" width="8" height="8" fill="#ffe58f"/><rect x="402" y="265" width="8" height="8" fill="#ffe590"/><rect x="410" y="265" width="8" height="8" fill="#ffe590"/><rect x="418" y="265" width="8" height="8" fill="#ffe590"/><rect x="426" y="265" width="8" height="8" fill="#ffe590"/><rect x="290" y="273" width="8" height="8" fill="#fed471"/><rect x="298" y="273" width="8" height="8" fill="#fed471"/><rect x="306" y="273" width="8" height="8" fill="#fed471"/><rect x="314" y="273" width="8" height="8" fill="#fed673"/><rect x="322" y="273" width="8" height="8" fill="#feda78"/><rect x="330" y="273" width="8" height="8" fill="#fedc7c"/><rect x="338" y="273" width="8" height="8" fill="#fede80"/><rect x="346" y="273" width="8" height="8" fill="#fedf83"/><rect x="354" y="273" width="8" height="8" fill="#fee084"/><rect x="362" y="273" width="8" height="8" fill="#fee186"/><rect x="370" y="273" width="8" height="8" fill="#fee188"/><rect x="378" y="273" width="8" height="8" fill="#fee289"/><rect x="386" y="273" width="8" height="8" fill="#fee38b"/><rect x="394" y="273" width="8" height="8" fill="#ffe48c"/><rect x="402" y="273" width="8" height="8" fill="#ffe48e"/><rect x="410" y="273" width="8" height="8" fill="#ffe58e"/><rect x="418" y="273" width="8" height="8" fill="#ffe58e"/><rect x="426" y="273" width="8" height="8" fill="#ffe58e"/><rect x="290" y="281" width="8" height="8" fill="#fecd69"/><rect x="298" y="281" width="8" height="8" fill="#fecd69"/><rect x="306" y="281" width="8" height="8" fill="#fecd69"/><rect x="314" y="281" width="8" height="8" fill="#fecf6b"/><rect x="322" y="281" width="8" height="8" fill="#fed471"/><rect x="330" y="281" width="8" height="8" fill="#fed976"/><rect x="338" y="281" width="8" height="8" fill="#fedb7b"/><rect x="346" y="281" width="8" height="8" fill="#fedd7f"/><rect x="354" y="281" width="8" height="8" fill="#fede81"/><rect x="362" y="281" width="8" height="8" fill="#fedf83"/><rect x="370" y="281" width="8" height="8" fill="#fee084"/><rect x="378" y="281" width="8" height="8" fill="#fee186"/><rect x="386" y="281" width="8" height="8" fill="#fee188"/><rect x="394" y="281" width="8" height="8" fill="#fee289"/><rect x="402" y="281" width="8" height="8" fill="#fee38b"/><rect x="410" y="281" width="8" height="8" fill="#ffe38c"/><rect x="418" y="281" width="8" height="8" fill="#ffe38c"/><rect x="426" y="281" width="8" height="8" fill="#ffe38c"/><rect x="290" y="289" width="8" height="8" fill="#fec662"/><rect x="298" y="289" width="8" height="8" fill="#fec662"/><rect x="306" y="289" width="8" height="8" fill="#fec662"/><rect x="314" y="289" width="8" height="8" fill="#fec965"/><rect x="322" y="289" width="8" height="8" fill="#fecf6b"/><rect x="330" y="289" width="8" height="8" fill="#fed471"/><rect x="338" y="289" width="8" height="8" fill="#fed976"/><rect x="346" y="289" width="8" height="8" fill="#fedb7a"/><rect x="354" y="289" width="8" height="8" fill="#fedc7d"/><rect x="362" y="289" width="8" height="8" fill="#fedd7f"/><rect x="370" y="289" width="8" height="8" fill="#fede81"/><rect x="378" y="289" width="8" height="8" fill="#fedf83"/><rect x="386" y="289" width="8" height="8" fill="#fee084"/><rect x="394" y="289" width="8" height="8" fill="#fee186"/><rect x="402" y="289" width="8" height="8" fill="#fee188"/><rect x="410" y="289" width="8" height="8" fill="#fee288"/><rect x="418" y="289" width="8" height="8" fill="#fee288"/><rect x="426" y="289" width="8" height="8" fill="#fee288"/><rect x="290" y="297" width="8" height="8" fill="#fec05b"/><rect x="298" y="297" width="8" height="8" fill="#fec05b"/><rect x="306" y="297" width="8" height="8" fill="#fec05b"/><rect x="314" y="297" width="8" height="8" fill="#fec45f"/><rect x="322" y="297" width="8" height="8" fill="#fecb66"/><rect x="330" y="297" width="8" height="8" fill="#fed06d"/><rect x="338" y="297" width="8" height="8" fill="#fed572"/><rect x="346" y="297" width="8" height="8" fill="#fed976"/><rect x="354" y="297" width="8" height="8" fill="#fedb79"/><rect x="362" y="297" width="8" height="8" fill="#fedc7c"/><rect x="370" y="297" width="8" height="8" fill="#fedd7e"/><rect x="378" y="297" width="8" height="8" fill="#fedd7f"/><rect x="386" y="297" width="8" height="8" fill="#fede81"/><rect x="394" y="297" width="8" height="8" fill="#fedf83"/><rect x="402" y="297" width="8" height="8" fill="#fee084"/><rect x="410" y="297" width="8" height="8" fill="#fee085"/><rect x="418" y="297" width="8" height="8" fill="#fee085"/><rect x="426" y="297" width="8" height="8" fill="#fee085"/><rect x="290" y="305" width="8" height="8" fill="#feba54"/><rect x="298" y="305" width="8" height="8" fill="#feba54"/><rect x="306" y="305" width="8" height="8" fill="#feba54"/><rect x="314" y="305" width="8" height="8" fill="#febe59"/><rect x="322" y="305" width="8" height="8" fill="#fec762"/><rect x="330" y="305" width="8" height="8" fill="#fecd69"/><rect x="338" y="305" width="8" height="8" fill="#fed26e"/><rect x="346" y="305" width="8" height="8" fill="#fed673"/><rect x="354" y="305" width="8" height="8" fill="#fed976"/><rect x="362" y="305" width="8" height="8" fill="#feda79"/><rect x="370" y="305" width="8" height="8" fill="#fedb7a"/><rect x="378" y="305" width="8" height="8" fill="#fedc7c"/><rect x="386" y="305" width="8" height="8" fill="#fedd7e"/><rect x="394" y="305" width="8" height="8" fill="#fedd7f"/><rect x="402" y="305" width="8" height="8" fill="#fede81"/><rect x="410" y="305" width="8" height="8" fill="#fedf82"/><rect x="418" y="305" width="8" height="8" fill="#fedf82"/><rect x="426" y="305" width="8" height="8" fill="#fedf82"/><rect x="290" y="313" width="8" height="8" fill="#feb44e"/><rect x="298" y="313" width="8" height="8" fill="#feb44e"/><rect x="306" y="313" width="8" height="8" fill="#feb44e"/><rect x="314" y="313" width="8" height="8" fill="#feb853"/><rect x="322" y="313" width="8" height="8" fill="#fec25d"/><rect x="330" y="313" width="8" height="8" fill="#fec965"/><rect x="338" y="313" width="8" height="8" fill="#fece6a"/><rect x="346" y="313" width="8" height="8" fill="#fed26e"/><rect x="354" y="313" width="8" height="8" fill="#fed572"/><rect x="362" y="313" width="8" height="8" fill="#fed875"/><rect x="370" y="313" width="8" height="8" fill="#fed977"/><rect x="378" y="313" width="8" height="8" fill="#feda79"/><rect x="386" y="313" width="8" height="8" fill="#fedb7a"/><rect x="394" y="313" width="8" height="8" fill="#fedc7c"/><rect x="402" y="313" width="8" height="8" fill="#fedd7e"/><rect x="410" y="313" width="8" height="8" fill="#fedd7e"/><rect x="418" y="313" width="8" height="8" fill="#fedd7e"/><rect x="426" y="313" width="8" height="8" fill="#fedd7e"/><rect x="290" y="321" width="8" height="8" fill="#feae4a"/><rect x="298" y="321" width="8" height="8" fill="#feae4a"/><rect x="306" y="321" width="8" height="8" fill="#feae4a"/><rect x="314" y="321" width="8" height="8" fill="#feb34d"/><rect x="322" y="321" width="8" height="8" fill="#febd58"/><rect x="330" y="321" width="8" height="8" fill="#fec560"/><rect x="338" y="321" width="8" height="8" fill="#fec965"/><rect x="346" y="321" width="8" height="8" fill="#fecd69"/><rect x="354" y="321" width="8" height="8" fill="#fed06d"/><rect x="362" y="321" width="8" height="8" fill="#fed370"/><rect x="370" y="321" width="8" height="8" fill="#fed673"/><rect x="378" y="321" width="8" height="8" fill="#fed875"/><rect x="386" y="321" width="8" height="8" fill="#fed977"/><rect x="394" y="321" width="8" height="8" fill="#feda79"/><rect x="402" y="321" width="8" height="8" fill="#fedb7a"/><rect x="410" y="321" width="8" height="8" fill="#fedb7b"/><rect x="418" y="321" width="8" height="8" fill="#fedb7b"/><rect x="426" y="321" width="8" height="8" fill="#fedb7b"/><rect x="290" y="329" width="8" height="8" fill="#fea948"/><rect x="298" y="329" width="8" height="8" fill="#fea948"/><rect x="306" y="329" width="8" height="8" fill="#fea948"/><rect x="314" y="329" width="8" height="8" fill="#feae4a"/><rect x="322" y="329" width="8" height="8" fill="#feb752"/><rect x="330" y="329" width="8" height="8" fill="#febf5a"/><rect x="338" y="329" width="8" height="8" fill="#fec45f"/><rect x="346" y="329" width="8" height="8" fill="#fec863"/><rect x="354" y="329" width="8" height="8" fill="#feca66"/><rect x="362" y="329" width="8" height="8" fill="#fecd6a"/><rect x="370" y="329" width="8" height="8" fill="#fed16d"/><rect x="378" y="329" width="8" height="8" fill="#fed470"/><rect x="386" y="329" width="8" height="8" fill="#fed672"/><rect x="394" y="329" width="8" height="8" fill="#fed774"/><rect x="402" y="329" width="8" height="8" fill="#fed976"/><rect x="410" y="329" width="8" height="8" fill="#fed977"/><rect x="418" y="329" width="8" height="8" fill="#fed977"/><rect x="426" y="329" width="8" height="8" fill="#fed977"/><rect x="290" y="337" width="8" height="8" fill="#fea647"/><rect x="298" y="337" width="8" height="8" fill="#fea647"/><rect x="306" y="337" width="8" height="8" fill="#fea647"/><rect x="314" y="337" width="8" height="8" fill="#feaa48"/><rect x="322" y="337" width="8" height="8" fill="#feb14b"/><rect x="330" y="337" width="8" height="8" fill="#feb752"/><rect x="338" y="337" width="8" height="8" fill="#febd58"/><rect x="346" y="337" width="8" height="8" fill="#fec15c"/><rect x="354" y="337" width="8" height="8" fill="#fec35e"/><rect x="362" y="337" width="8" height="8" fill="#fec662"/><rect x="370" y="337" width="8" height="8" fill="#feca66"/><rect x="378" y="337" width="8" height="8" fill="#fece6a"/><rect x="386" y="337" width="8" height="8" fill="#fed16d"/><rect x="394" y="337" width="8" height="8" fill="#fed36f"/><rect x="402" y="337" width="8" height="8" fill="#fed471"/><rect x="410" y="337" width="8" height="8" fill="#fed572"/><rect x="418" y="337" width="8" height="8" fill="#fed572"/><rect x="426" y="337" width="8" height="8" fill="#fed572"/><rect x="290" y="345" width="8" height="8" fill="#fd9f44"/><rect x="298" y="345" width="8" height="8" fill="#fd9f44"/><rect x="306" y="345" width="8" height="8" fill="#fea044"/><rect x="314" y="345" width="8" height="8" fill="#fea346"/><rect x="322" y="345" width="8" height="8" fill="#fea948"/><rect x="330" y="345" width="8" height="8" fill="#feaf4b"/><rect x="338" y="345" width="8" height="8" fill="#feb54f"/><rect x="346" y="345" width="8" height="8" fill="#feb954"/><rect x="354" y="345" width="8" height="8" fill="#febb56"/><rect x="362" y="345" width="8" height="8" fill="#febe59"/><rect x="370" y="345" width="8" height="8" fill="#fec35e"/><rect x="378" y="345" width="8" height="8" fill="#fec763"/><rect x="386" y="345" width="8" height="8" fill="#fecc68"/><rect x="394" y="345" width="8" height="8" fill="#fecf6b"/><rect x="402" y="345" width="8" height="8" fill="#fed16d"/><rect x="410" y="345" width="8" height="8" fill="#fed26e"/><rect x="418" y="345" width="8" height="8" fill="#fed26e"/><rect x="426" y="345" width="8" height="8" fill="#fed26e"/><rect x="290" y="353" width="8" height="8" fill="#fd933f"/><rect x="298" y="353" width="8" height="8" fill="#fd943f"/><rect x="306" y="353" width="8" height="8" fill="#fd9640"/><rect x="314" y="353" width="8" height="8" fill="#fd9a42"/><rect x="322" y="353" width="8" height="8" fill="#fea044"/><rect x="330" y="353" width="8" height="8" fill="#fea647"/><rect x="338" y="353" width="8" height="8" fill="#feac49"/><rect x="346" y="353" width="8" height="8" fill="#feb04b"/><rect x="354" y="353" width="8" height="8" fill="#feb34d"/><rect x="362" y="353" width="8" height="8" fill="#feb650"/><rect x="370" y="353" width="8" height="8" fill="#feba54"/><rect x="378" y="353" width="8" height="8" fill="#febf5a"/><rect x="386" y="353" width="8" height="8" fill="#fec763"/><rect x="394" y="353" width="8" height="8" fill="#fecc68"/><rect x="402" y="353" width="8" height="8" fill="#fecf6b"/><rect x="410" y="353" width="8" height="8" fill="#fed06d"/><rect x="418" y="353" width="8" height="8" fill="#fed06d"/><rect x="426" y="353" width="8" height="8" fill="#fed06d"/><rect x="290" y="361" width="8" height="8" fill="#fd853a"/><rect x="298" y="361" width="8" height="8" fill="#fd893b"/><rect x="306" y="361" width="8" height="8" fill="#fd8e3c"/><rect x="314" y="361" width="8" height="8" fill="#fd933f"/><rect x="322" y="361" width="8" height="8" fill="#fd9941"/><rect x="330" y="361" width="8" height="8" fill="#fd9f44"/><rect x="338" y="361" width="8" height="8" fill="#fea446"/><rect x="346" y="361" width="8" height="8" fill="#fea848"/><rect x="354" y="361" width="8" height="8" fill="#feaa49"/><rect x="362" y="361" width="8" height="8" fill="#fead4a"/><rect x="370" y="361" width="8" height="8" fill="#feb14c"/><rect x="378" y="361" width="8" height="8" fill="#feb853"/><rect x="386" y="361" width="8" height="8" fill="#fec25d"/><rect x="394" y="361" width="8" height="8" fill="#fec965"/><rect x="402" y="361" width="8" height="8" fill="#fecc68"/><rect x="410" y="361" width="8" height="8" fill="#fece6a"/><rect x="418" y="361" width="8" height="8" fill="#fece6a"/><rect x="426" y="361" width="8" height="8" fill="#fece6a"/><rect x="290" y="369" width="8" height="8" fill="#fd7636"/><rect x="298" y="369" width="8" height="8" fill="#fd7b37"/><rect x="306" y="369" width="8" height="8" fill="#fd8439"/><rect x="314" y="369" width="8" height="8" fill="#fd8d3c"/><rect x="322" y="369" width="8" height="8" fill="#fd933f"/><rect x="330" y="369" width="8" height="8" fill="#fd9841"/><rect x="338" y="369" width="8" height="8" fill="#fd9d43"/><rect x="346" y="369" width="8" height="8" fill="#fea044"/><rect x="354" y="369" width="8" height="8" fill="#fea144"/><rect x="362" y="369" width="8" height="8" fill="#fea446"/><rect x="370" y="369" width="8" height="8" fill="#feaa49"/><rect x="378" y="369" width="8" height="8" fill="#feb34d"/><rect x="386" y="369" width="8" height="8" fill="#febd58"/><rect x="394" y="369" width="8" height="8" fill="#fec560"/><rect x="402" y="369" width="8" height="8" fill="#fec965"/><rect x="410" y="369" width="8" height="8" fill="#fecb67"/><rect x="418" y="369" width="8" height="8" fill="#fecb67"/><rect x="426" y="369" width="8" height="8" fill="#fecb67"/><rect x="290" y="377" width="8" height="8" fill="#fc6330"/><rect x="298" y="377" width="8" height="8" fill="#fc6a32"/><rect x="306" y="377" width="8" height="8" fill="#fd7836"/><rect x="314" y="377" width="8" height="8" fill="#fd843a"/><rect x="322" y="377" width="8" height="8" fill="#fd8e3d"/><rect x="330" y="377" width="8" height="8" fill="#fd933f"/><rect x="338" y="377" width="8" height="8" fill="#fd9841"/><rect x="346" y="377" width="8" height="8" fill="#fd9a42"/><rect x="354" y="377" width="8" height="8" fill="#fd9a42"/><rect x="362" y="377" width="8" height="8" fill="#fd9e44"/><rect x="370" y="377" width="8" height="8" fill="#fea747"/><rect x="378" y="377" width="8" height="8" fill="#feb04b"/><rect x="386" y="377" width="8" height="8" fill="#febb55"/><rect x="394" y="377" width="8" height="8" fill="#fec35e"/><rect x="402" y="377" width="8" height="8" fill="#fec864"/><rect x="410" y="377" width="8" height="8" fill="#fecb67"/><rect x="418" y="377" width="8" height="8" fill="#fecb67"/><rect x="426" y="377" width="8" height="8" fill="#fecb67"/><rect x="290" y="385" width="8" height="8" fill="#fc4d2a"/><rect x="298" y="385" width="8" height="8" fill="#fc572d"/><rect x="306" y="385" width="8" height="8" fill="#fc6d33"/><rect x="314" y="385" width="8" height="8" fill="#fd7e38"/><rect x="322" y="385" width="8" height="8" fill="#fd8a3b"/><rect x="330" y="385" width="8" height="8" fill="#fd903d"/><rect x="338" y="385" width="8" height="8" fill="#fd933f"/><rect x="346" y="385" width="8" height="8" fill="#fd9640"/><rect x="354" y="385" width="8" height="8" fill="#fd9740"/><rect x="362" y="385" width="8" height="8" fill="#fd9c43"/><rect x="370" y="385" width="8" height="8" fill="#fea647"/><rect x="378" y="385" width="8" height="8" fill="#feb04b"/><rect x="386" y="385" width="8" height="8" fill="#febb55"/><rect x="394" y="385" width="8" height="8" fill="#fec45f"/><rect x="402" y="385" width="8" height="8" fill="#fecb66"/><rect x="410" y="385" width="8" height="8" fill="#fece6a"/><rect x="418" y="385" width="8" height="8" fill="#fece6a"/><rect x="426" y="385" width="8" height="8" fill="#fece6a"/><rect x="290" y="393" width="8" height="8" fill="#f43e26"/><rect x="298" y="393" width="8" height="8" fill="#f94828"/><rect x="306" y="393" width="8" height="8" fill="#fc5c2e"/><rect x="314" y="393" width="8" height="8" fill="#fc6c33"/><rect x="322" y="393" width="8" height="8" fill="#fd7535"/><rect x="330" y="393" width="8" height="8" fill="#fd7a37"/><rect x="338" y="393" width="8" height="8" fill="#fd7b37"/><rect x="346" y="393" width="8" height="8" fill="#fd7c37"/><rect x="354" y="393" width="8" height="8" fill="#fd7e38"/><rect x="362" y="393" width="8" height="8" fill="#fd893b"/><rect x="370" y="393" width="8" height="8" fill="#fd9640"/><rect x="378" y="393" width="8" height="8" fill="#fea245"/><rect x="386" y="393" width="8" height="8" fill="#fead4a"/><rect x="394" y="393" width="8" height="8" fill="#feb953"/><rect x="402" y="393" width="8" height="8" fill="#fec460"/><rect x="410" y="393" width="8" height="8" fill="#feca66"/><rect x="418" y="393" width="8" height="8" fill="#feca66"/><rect x="426" y="393" width="8" height="8" fill="#feca66"/><rect x="290" y="401" width="8" height="8" fill="#f03423"/><rect x="298" y="401" width="8" height="8" fill="#f33b25"/><rect x="306" y="401" width="8" height="8" fill="#f94728"/><rect x="314" y="401" width="8" height="8" fill="#fc502a"/><rect x="322" y="401" width="8" height="8" fill="#fc532b"/><rect x="330" y="401" width="8" height="8" fill="#fc502b"/><rect x="338" y="401" width="8" height="8" fill="#fa4929"/><rect x="346" y="401" width="8" height="8" fill="#f84628"/><rect x="354" y="401" width="8" height="8" fill="#f84628"/><rect x="362" y="401" width="8" height="8" fill="#fc512b"/><rect x="370" y="401" width="8" height="8" fill="#fc6831"/><rect x="378" y="401" width="8" height="8" fill="#fd7f38"/><rect x="386" y="401" width="8" height="8" fill="#fd933e"/><rect x="394" y="401" width="8" height="8" fill="#fea345"/><rect x="402" y="401" width="8" height="8" fill="#feb650"/><rect x="410" y="401" width="8" height="8" fill="#febf5a"/><rect x="418" y="401" width="8" height="8" fill="#febf5a"/><rect x="426" y="401" width="8" height="8" fill="#febf5a"/><rect x="290" y="409" width="8" height="8" fill="#e61f1d"/><rect x="298" y="409" width="8" height="8" fill="#e7231e"/><rect x="306" y="409" width="8" height="8" fill="#eb2b21"/><rect x="314" y="409" width="8" height="8" fill="#ec2e21"/><rect x="322" y="409" width="8" height="8" fill="#eb2b21"/><rect x="330" y="409" width="8" height="8" fill="#e7231e"/><rect x="338" y="409" width="8" height="8" fill="#e0181d"/><rect x="346" y="409" width="8" height="8" fill="#db151e"/><rect x="354" y="409" width="8" height="8" fill="#db151e"/><rect x="362" y="409" width="8" height="8" fill="#e41b1c"/><rect x="370" y="409" width="8" height="8" fill="#ef3323"/><rect x="378" y="409" width="8" height="8" fill="#fb4d2a"/><rect x="386" y="409" width="8" height="8" fill="#fd6f33"/><rect x="394" y="409" width="8" height="8" fill="#fd903d"/><rect x="402" y="409" width="8" height="8" fill="#fea446"/><rect x="410" y="409" width="8" height="8" fill="#feae4a"/><rect x="418" y="409" width="8" height="8" fill="#feae4a"/><rect x="426" y="409" width="8" height="8" fill="#feae4a"/><rect x="290" y="417" width="8" height="8" fill="#d00d21"/><rect x="298" y="417" width="8" height="8" fill="#d10e21"/><rect x="306" y="417" width="8" height="8" fill="#d30f20"/><rect x="314" y="417" width="8" height="8" fill="#d10e21"/><rect x="322" y="417" width="8" height="8" fill="#cb0a22"/><rect x="330" y="417" width="8" height="8" fill="#c20325"/><rect x="338" y="417" width="8" height="8" fill="#af0026"/><rect x="346" y="417" width="8" height="8" fill="#a50026"/><rect x="354" y="417" width="8" height="8" fill="#a50026"/><rect x="362" y="417" width="8" height="8" fill="#b50026"/><rect x="370" y="417" width="8" height="8" fill="#cd0b22"/><rect x="378" y="417" width="8" height="8" fill="#e6201e"/><rect x="386" y="417" width="8" height="8" fill="#fb4d2a"/><rect x="394" y="417" width="8" height="8" fill="#fd7535"/><rect x="402" y="417" width="8" height="8" fill="#fd903d"/><rect x="410" y="417" width="8" height="8" fill="#fd9841"/><rect x="418" y="417" width="8" height="8" fill="#fd9841"/><rect x="426" y="417" width="8" height="8" fill="#fd9841"/><rect x="290" y="425" width="8" height="8" fill="#bd0026"/><rect x="298" y="425" width="8" height="8" fill="#bb0026"/><rect x="306" y="425" width="8" height="8" fill="#b80026"/><rect x="314" y="425" width="8" height="8" fill="#b20026"/><rect x="322" y="425" width="8" height="8" fill="#a90026"/><rect x="330" y="425" width="8" height="8" fill="#9b0026"/><rect x="338" y="425" width="8" height="8" fill="#890026"/><rect x="346" y="425" width="8" height="8" fill="#800026"/><rect x="354" y="425" width="8" height="8" fill="#800026"/><rect x="362" y="425" width="8" height="8" fill="#940026"/><rect x="370" y="425" width="8" height="8" fill="#bb0026"/><rect x="378" y="425" width="8" height="8" fill="#da141e"/><rect x="386" y="425" width="8" height="8" fill="#f54026"/><rect x="394" y="425" width="8" height="8" fill="#fc6631"/><rect x="402" y="425" width="8" height="8" fill="#fd7c37"/><rect x="410" y="425" width="8" height="8" fill="#fd873a"/><rect x="418" y="425" width="8" height="8" fill="#fd873a"/><rect x="426" y="425" width="8" height="8" fill="#fd873a"/><rect x="290" y="433" width="8" height="8" fill="#a50026"/><rect x="298" y="433" width="8" height="8" fill="#a00026"/><rect x="306" y="433" width="8" height="8" fill="#970026"/><rect x="314" y="433" width="8" height="8" fill="#910026"/><rect x="322" y="433" width="8" height="8" fill="#8e0026"/><rect x="330" y="433" width="8" height="8" fill="#890026"/><rect x="338" y="433" width="8" height="8" fill="#830026"/><rect x="346" y="433" width="8" height="8" fill="#800026"/><rect x="354" y="433" width="8" height="8" fill="#800026"/><rect x="362" y="433" width="8" height="8" fill="#970026"/><rect x="370" y="433" width="8" height="8" fill="#c20325"/><rect x="378" y="433" width="8" height="8" fill="#e0181d"/><rect x="386" y="433" width="8" height="8" fill="#f64227"/><rect x="394" y="433" width="8" height="8" fill="#fc6230"/><rect x="402" y="433" width="8" height="8" fill="#fd7234"/><rect x="410" y="433" width="8" height="8" fill="#fd7a37"/><rect x="418" y="433" width="8" height="8" fill="#fd7a37"/><rect x="426" y="433" width="8" height="8" fill="#fd7a37"/><rect x="290" y="441" width="8" height="8" fill="#980026"/><rect x="298" y="441" width="8" height="8" fill="#920026"/><rect x="306" y="441" width="8" height="8" fill="#860026"/><rect x="314" y="441" width="8" height="8" fill="#800026"/><rect x="322" y="441" width="8" height="8" fill="#800026"/><rect x="330" y="441" width="8" height="8" fill="#800026"/><rect x="338" y="441" width="8" height="8" fill="#800026"/><rect x="346" y="441" width="8" height="8" fill="#810026"/><rect x="354" y="441" width="8" height="8" fill="#830026"/><rect x="362" y="441" width="8" height="8" fill="#9e0026"/><rect x="370" y="441" width="8" height="8" fill="#ca0923"/><rect x="378" y="441" width="8" height="8" fill="#e6201e"/><rect x="386" y="441" width="8" height="8" fill="#f74427"/><rect x="394" y="441" width="8" height="8" fill="#fc5e2f"/><rect x="402" y="441" width="8" height="8" fill="#fc6a32"/><rect x="410" y="441" width="8" height="8" fill="#fd7034"/><rect x="418" y="441" width="8" height="8" fill="#fd7034"/><rect x="426" y="441" width="8" height="8" fill="#fd7034"/><rect x="290" y="449" width="8" height="8" fill="#980026"/><rect x="298" y="449" width="8" height="8" fill="#920026"/><rect x="306" y="449" width="8" height="8" fill="#860026"/><rect x="314" y="449" width="8" height="8" fill="#800026"/><rect x="322" y="449" width="8" height="8" fill="#800026"/><rect x="330" y="449" width="8" height="8" fill="#800026"/><rect x="338" y="449" width="8" height="8" fill="#800026"/><rect x="346" y="449" width="8" height="8" fill="#830026"/><rect x="354" y="449" width="8" height="8" fill="#880026"/><rect x="362" y="449" width="8" height="8" fill="#a80026"/><rect x="370" y="449" width="8" height="8" fill="#d41020"/><rect x="378" y="449" width="8" height="8" fill="#eb2b21"/><rect x="386" y="449" width="8" height="8" fill="#f84528"/><rect x="394" y="449" width="8" height="8" fill="#fc582d"/><rect x="402" y="449" width="8" height="8" fill="#fc6330"/><rect x="410" y="449" width="8" height="8" fill="#fc6832"/><rect x="418" y="449" width="8" height="8" fill="#fc6832"/><rect x="426" y="449" width="8" height="8" fill="#fc6832"/><rect x="290" y="457" width="8" height="8" fill="#980026"/><rect x="298" y="457" width="8" height="8" fill="#920026"/><rect x="306" y="457" width="8" height="8" fill="#860026"/><rect x="314" y="457" width="8" height="8" fill="#800026"/><rect x="322" y="457" width="8" height="8" fill="#800026"/><rect x="330" y="457" width="8" height="8" fill="#800026"/><rect x="338" y="457" width="8" height="8" fill="#800026"/><rect x="346" y="457" width="8" height="8" fill="#840026"/><rect x="354" y="457" width="8" height="8" fill="#8d0026"/><rect x="362" y="457" width="8" height="8" fill="#ae0026"/><rect x="370" y="457" width="8" height="8" fill="#d8121f"/><rect x="378" y="457" width="8" height="8" fill="#ed2f22"/><rect x="386" y="457" width="8" height="8" fill="#f84628"/><rect x="394" y="457" width="8" height="8" fill="#fc582d"/><rect x="402" y="457" width="8" height="8" fill="#fc6330"/><rect x="410" y="457" width="8" height="8" fill="#fc6832"/><rect x="418" y="457" width="8" height="8" fill="#fc6832"/><rect x="426" y="457" width="8" height="8" fill="#fc6832"/><rect x="290" y="465" width="8" height="8" fill="#980026"/><rect x="298" y="465" width="8" height="8" fill="#920026"/><rect x="306" y="465" width="8" height="8" fill="#860026"/><rect x="314" y="465" width="8" height="8" fill="#800026"/><rect x="322" y="465" width="8" height="8" fill="#800026"/><rect x="330" y="465" width="8" height="8" fill="#800026"/><rect x="338" y="465" width="8" height="8" fill="#800026"/><rect x="346" y="465" width="8" height="8" fill="#850026"/><rect x="354" y="465" width="8" height="8" fill="#900026"/><rect x="362" y="465" width="8" height="8" fill="#b00026"/><rect x="370" y="465" width="8" height="8" fill="#d51120"/><rect x="378" y="465" width="8" height="8" fill="#eb2b21"/><rect x="386" y="465" width="8" height="8" fill="#f94828"/><rect x="394" y="465" width="8" height="8" fill="#fc5e2f"/><rect x="402" y="465" width="8" height="8" fill="#fc6a32"/><rect x="410" y="465" width="8" height="8" fill="#fd7034"/><rect x="418" y="465" width="8" height="8" fill="#fd7034"/><rect x="426" y="465" width="8" height="8" fill="#fd7034"/><rect x="290" y="473" width="8" height="8" fill="#9f0026"/><rect x="298" y="473" width="8" height="8" fill="#970026"/><rect x="306" y="473" width="8" height="8" fill="#880026"/><rect x="314" y="473" width="8" height="8" fill="#800026"/><rect x="322" y="473" width="8" height="8" fill="#800026"/><rect x="330" y="473" width="8" height="8" fill="#800026"/><rect x="338" y="473" width="8" height="8" fill="#800026"/><rect x="346" y="473" width="8" height="8" fill="#850026"/><rect x="354" y="473" width="8" height="8" fill="#8e0026"/><rect x="362" y="473" width="8" height="8" fill="#a90026"/><rect x="370" y="473" width="8" height="8" fill="#cd0b22"/><rect x="378" y="473" width="8" height="8" fill="#e61f1d"/><rect x="386" y="473" width="8" height="8" fill="#f43e26"/><rect x="394" y="473" width="8" height="8" fill="#fc552c"/><rect x="402" y="473" width="8" height="8" fill="#fc6430"/><rect x="410" y="473" width="8" height="8" fill="#fc6b32"/><rect x="418" y="473" width="8" height="8" fill="#fc6b32"/><rect x="426" y="473" width="8" height="8" fill="#fc6b32"/><rect x="290" y="481" width="8" height="8" fill="#ab0026"/><rect x="298" y="481" width="8" height="8" fill="#a00026"/><rect x="306" y="481" width="8" height="8" fill="#8b0026"/><rect x="314" y="481" width="8" height="8" fill="#800026"/><rect x="322" y="481" width="8" height="8" fill="#800026"/><rect x="330" y="481" width="8" height="8" fill="#800026"/><rect x="338" y="481" width="8" height="8" fill="#800026"/><rect x="346" y="481" width="8" height="8" fill="#820026"/><rect x="354" y="481" width="8" height="8" fill="#850026"/><rect x="362" y="481" width="8" height="8" fill="#9a0026"/><rect x="370" y="481" width="8" height="8" fill="#c00225"/><rect x="378" y="481" width="8" height="8" fill="#d8121f"/><rect x="386" y="481" width="8" height="8" fill="#eb2a20"/><rect x="394" y="481" width="8" height="8" fill="#f64126"/><rect x="402" y="481" width="8" height="8" fill="#fc502b"/><rect x="410" y="481" width="8" height="8" fill="#fc592d"/><rect x="418" y="481" width="8" height="8" fill="#fc592d"/><rect x="426" y="481" width="8" height="8" fill="#fc592d"/><rect x="290" y="489" width="8" height="8" fill="#bd0026"/><rect x="298" y="489" width="8" height="8" fill="#b10026"/><rect x="306" y="489" width="8" height="8" fill="#980026"/><rect x="314" y="489" width="8" height="8" fill="#890026"/><rect x="322" y="489" width="8" height="8" fill="#830026"/><rect x="330" y="489" width="8" height="8" fill="#800026"/><rect x="338" y="489" width="8" height="8" fill="#800026"/><rect x="346" y="489" width="8" height="8" fill="#800026"/><rect x="354" y="489" width="8" height="8" fill="#800026"/><rect x="362" y="489" width="8" height="8" fill="#900026"/><rect x="370" y="489" width="8" height="8" fill="#b00026"/><rect x="378" y="489" width="8" height="8" fill="#c80823"/><rect x="386" y="489" width="8" height="8" fill="#da141e"/><rect x="394" y="489" width="8" height="8" fill="#e7221e"/><rect x="402" y="489" width="8" height="8" fill="#ee3122"/><rect x="410" y="489" width="8" height="8" fill="#f23824"/><rect x="418" y="489" width="8" height="8" fill="#f23824"/><rect x="426" y="489" width="8" height="8" fill="#f23824"/><rect x="290" y="497" width="8" height="8" fill="#cc0a22"/><rect x="298" y="497" width="8" height="8" fill="#c50524"/><rect x="306" y="497" width="8" height="8" fill="#b10026"/><rect x="314" y="497" width="8" height="8" fill="#9b0026"/><rect x="322" y="497" width="8" height="8" fill="#890026"/><rect x="330" y="497" width="8" height="8" fill="#800026"/><rect x="338" y="497" width="8" height="8" fill="#800026"/><rect x="346" y="497" width="8" height="8" fill="#800026"/><rect x="354" y="497" width="8" height="8" fill="#800026"/><rect x="362" y="497" width="8" height="8" fill="#8c0026"/><rect x="370" y="497" width="8" height="8" fill="#a40026"/><rect x="378" y="497" width="8" height="8" fill="#b60026"/><rect x="386" y="497" width="8" height="8" fill="#c10225"/><rect x="394" y="497" width="8" height="8" fill="#c90823"/><rect x="402" y="497" width="8" height="8" fill="#d20e21"/><rect x="410" y="497" width="8" height="8" fill="#d6111f"/><rect x="418" y="497" width="8" height="8" fill="#d6111f"/><rect x="426" y="497" width="8" height="8" fill="#d6111f"/><rect x="290" y="505" width="8" height="8" fill="#db151e"/><rect x="298" y="505" width="8" height="8" fill="#d51120"/><rect x="306" y="505" width="8" height="8" fill="#c90823"/><rect x="314" y="505" width="8" height="8" fill="#bb0026"/><rect x="322" y="505" width="8" height="8" fill="#a40026"/><rect x="330" y="505" width="8" height="8" fill="#960026"/><rect x="338" y="505" width="8" height="8" fill="#910026"/><rect x="346" y="505" width="8" height="8" fill="#8d0026"/><rect x="354" y="505" width="8" height="8" fill="#880026"/><rect x="362" y="505" width="8" height="8" fill="#900026"/><rect x="370" y="505" width="8" height="8" fill="#a50026"/><rect x="378" y="505" width="8" height="8" fill="#b30026"/><rect x="386" y="505" width="8" height="8" fill="#ba0026"/><rect x="394" y="505" width="8" height="8" fill="#c30425"/><rect x="402" y="505" width="8" height="8" fill="#ce0c22"/><rect x="410" y="505" width="8" height="8" fill="#d41020"/><rect x="418" y="505" width="8" height="8" fill="#d41020"/><rect x="426" y="505" width="8" height="8" fill="#d41020"/><rect x="290" y="513" width="8" height="8" fill="#e8241f"/><rect x="298" y="513" width="8" height="8" fill="#e6201e"/><rect x="306" y="513" width="8" height="8" fill="#e1191c"/><rect x="314" y="513" width="8" height="8" fill="#d8121f"/><rect x="322" y="513" width="8" height="8" fill="#cb0a22"/><rect x="330" y="513" width="8" height="8" fill="#c00225"/><rect x="338" y="513" width="8" height="8" fill="#b30026"/><rect x="346" y="513" width="8" height="8" fill="#a60026"/><rect x="354" y="513" width="8" height="8" fill="#990026"/><rect x="362" y="513" width="8" height="8" fill="#9e0026"/><rect x="370" y="513" width="8" height="8" fill="#b50026"/><rect x="378" y="513" width="8" height="8" fill="#c30425"/><rect x="386" y="513" width="8" height="8" fill="#c90823"/><rect x="394" y="513" width="8" height="8" fill="#d61120"/><rect x="402" y="513" width="8" height="8" fill="#e7221e"/><rect x="410" y="513" width="8" height="8" fill="#ed2f22"/><rect x="418" y="513" width="8" height="8" fill="#ed2f22"/><rect x="426" y="513" width="8" height="8" fill="#ed2f22"/><rect x="290" y="521" width="8" height="8" fill="#f23924"/><rect x="298" y="521" width="8" height="8" fill="#f13624"/><rect x="306" y="521" width="8" height="8" fill="#ee3122"/><rect x="314" y="521" width="8" height="8" fill="#e9261f"/><rect x="322" y="521" width="8" height="8" fill="#e1191d"/><rect x="330" y="521" width="8" height="8" fill="#d7121f"/><rect x="338" y="521" width="8" height="8" fill="#ce0b22"/><rect x="346" y="521" width="8" height="8" fill="#c70723"/><rect x="354" y="521" width="8" height="8" fill="#c30424"/><rect x="362" y="521" width="8" height="8" fill="#c70723"/><rect x="370" y="521" width="8" height="8" fill="#d51020"/><rect x="378" y="521" width="8" height="8" fill="#df171d"/><rect x="386" y="521" width="8" height="8" fill="#e61f1d"/><rect x="394" y="521" width="8" height="8" fill="#ec2e21"/><rect x="402" y="521" width="8" height="8" fill="#f54026"/><rect x="410" y="521" width="8" height="8" fill="#fa4929"/><rect x="418" y="521" width="8" height="8" fill="#fa4929"/><rect x="426" y="521" width="8" height="8" fill="#fa4929"/><rect x="290" y="529" width="8" height="8" fill="#fc4e2a"/><rect x="298" y="529" width="8" height="8" fill="#fa4a29"/><rect x="306" y="529" width="8" height="8" fill="#f64126"/><rect x="314" y="529" width="8" height="8" fill="#f13624"/><rect x="322" y="529" width="8" height="8" fill="#eb2a20"/><rect x="330" y="529" width="8" height="8" fill="#e7221e"/><rect x="338" y="529" width="8" height="8" fill="#e51e1d"/><rect x="346" y="529" width="8" height="8" fill="#e7221e"/><rect x="354" y="529" width="8" height="8" fill="#ed2e21"/><rect x="362" y="529" width="8" height="8" fill="#f33b25"/><rect x="370" y="529" width="8" height="8" fill="#f94828"/><rect x="378" y="529" width="8" height="8" fill="#fc542c"/><rect x="386" y="529" width="8" height="8" fill="#fc612f"/><rect x="394" y="529" width="8" height="8" fill="#fc6230"/><rect x="402" y="529" width="8" height="8" fill="#fc592d"/><rect x="410" y="529" width="8" height="8" fill="#fc542c"/><rect x="418" y="529" width="8" height="8" fill="#fc542c"/><rect x="426" y="529" width="8" height="8" fill="#fc542c"/><rect x="290" y="537" width="8" height="8" fill="#fc612f"/><rect x="298" y="537" width="8" height="8" fill="#fc5c2e"/><rect x="306" y="537" width="8" height="8" fill="#fc532b"/><rect x="314" y="537" width="8" height="8" fill="#fb4b29"/><rect x="322" y="537" width="8" height="8" fill="#f84628"/><rect x="330" y="537" width="8" height="8" fill="#f74427"/><rect x="338" y="537" width="8" height="8" fill="#f74427"/><rect x="346" y="537" width="8" height="8" fill="#fb4b29"/><rect x="354" y="537" width="8" height="8" fill="#fc5e2e"/><rect x="362" y="537" width="8" height="8" fill="#fc6e33"/><rect x="370" y="537" width="8" height="8" fill="#fd7a37"/><rect x="378" y="537" width="8" height="8" fill="#fd8439"/><rect x="386" y="537" width="8" height="8" fill="#fd8a3b"/><rect x="394" y="537" width="8" height="8" fill="#fd8038"/><rect x="402" y="537" width="8" height="8" fill="#fc6731"/><rect x="410" y="537" width="8" height="8" fill="#fc5b2e"/><rect x="418" y="537" width="8" height="8" fill="#fc5b2e"/><rect x="426" y="537" width="8" height="8" fill="#fc5b2e"/><rect x="290" y="545" width="8" height="8" fill="#fc6e33"/><rect x="298" y="545" width="8" height="8" fill="#fc6c33"/><rect x="306" y="545" width="8" height="8" fill="#fc6932"/><rect x="314" y="545" width="8" height="8" fill="#fc6a32"/><rect x="322" y="545" width="8" height="8" fill="#fd7134"/><rect x="330" y="545" width="8" height="8" fill="#fd7435"/><rect x="338" y="545" width="8" height="8" fill="#fd7435"/><rect x="346" y="545" width="8" height="8" fill="#fd7736"/><rect x="354" y="545" width="8" height="8" fill="#fd7d38"/><rect x="362" y="545" width="8" height="8" fill="#fd873a"/><rect x="370" y="545" width="8" height="8" fill="#fd913e"/><rect x="378" y="545" width="8" height="8" fill="#fd933e"/><rect x="386" y="545" width="8" height="8" fill="#fd8f3d"/><rect x="394" y="545" width="8" height="8" fill="#fd8038"/><rect x="402" y="545" width="8" height="8" fill="#fc6731"/><rect x="410" y="545" width="8" height="8" fill="#fc5b2e"/><rect x="418" y="545" width="8" height="8" fill="#fc5b2e"/><rect x="426" y="545" width="8" height="8" fill="#fc5b2e"/><rect x="290" y="553" width="8" height="8" fill="#fd8038"/><rect x="298" y="553" width="8" height="8" fill="#fd8038"/><rect x="306" y="553" width="8" height="8" fill="#fd8038"/><rect x="314" y="553" width="8" height="8" fill="#fd853a"/><rect x="322" y="553" width="8" height="8" fill="#fd8e3c"/><rect x="330" y="553" width="8" height="8" fill="#fd913e"/><rect x="338" y="553" width="8" height="8" fill="#fd913e"/><rect x="346" y="553" width="8" height="8" fill="#fd913e"/><rect x="354" y="553" width="8" height="8" fill="#fd923e"/><rect x="362" y="553" width="8" height="8" fill="#fd9640"/><rect x="370" y="553" width="8" height="8" fill="#fd9c43"/><rect x="378" y="553" width="8" height="8" fill="#fd9d43"/><rect x="386" y="553" width="8" height="8" fill="#fd9740"/><rect x="394" y="553" width="8" height="8" fill="#fd8f3d"/><rect x="402" y="553" width="8" height="8" fill="#fd7d38"/><rect x="410" y="553" width="8" height="8" fill="#fd7435"/><rect x="418" y="553" width="8" height="8" fill="#fd7435"/><rect x="426" y="553" width="8" height="8" fill="#fd7435"/><rect x="290" y="561" width="8" height="8" fill="#fd943f"/><rect x="298" y="561" width="8" height="8" fill="#fd943f"/><rect x="306" y="561" width="8" height="8" fill="#fd943f"/><rect x="314" y="561" width="8" height="8" fill="#fd9540"/><rect x="322" y="561" width="8" height="8" fill="#fd9740"/><rect x="330" y="561" width="8" height="8" fill="#fd9841"/><rect x="338" y="561" width="8" height="8" fill="#fd9841"/><rect x="346" y="561" width="8" height="8" fill="#fd9a42"/><rect x="354" y="561" width="8" height="8" fill="#fd9d43"/><rect x="362" y="561" width="8" height="8" fill="#fea145"/><rect x="370" y="561" width="8" height="8" fill="#fea546"/><rect x="378" y="561" width="8" height="8" fill="#fea647"/><rect x="386" y="561" width="8" height="8" fill="#fea446"/><rect x="394" y="561" width="8" height="8" fill="#fea145"/><rect x="402" y="561" width="8" height="8" fill="#fd9e43"/><rect x="410" y="561" width="8" height="8" fill="#fd9c42"/><rect x="418" y="561" width="8" height="8" fill="#fd9c42"/><rect x="426" y="561" width="8" height="8" fill="#fd9c42"/><rect x="290" y="569" width="8" height="8" fill="#fea044"/><rect x="298" y="569" width="8" height="8" fill="#fea044"/><rect x="306" y="569" width="8" height="8" fill="#fea044"/><rect x="314" y="569" width="8" height="8" fill="#fea044"/><rect x="322" y="569" width="8" height="8" fill="#fea044"/><rect x="330" y="569" width="8" height="8" fill="#fea044"/><rect x="338" y="569" width="8" height="8" fill="#fea044"/><rect x="346" y="569" width="8" height="8" fill="#fea245"/><rect x="354" y="569" width="8" height="8" fill="#fea647"/><rect x="362" y="569" width="8" height="8" fill="#feaa48"/><rect x="370" y="569" width="8" height="8" fill="#feae4a"/><rect x="378" y="569" width="8" height="8" fill="#feb14b"/><rect x="386" y="569" width="8" height="8" fill="#feb34d"/><rect x="394" y="569" width="8" height="8" fill="#feb44e"/><rect x="402" y="569" width="8" height="8" fill="#feb550"/><rect x="410" y="569" width="8" height="8" fill="#feb650"/><rect x="418" y="569" width="8" height="8" fill="#feb650"/><rect x="426" y="569" width="8" height="8" fill="#feb650"/><rect x="290" y="577" width="8" height="8" fill="#fea747"/><rect x="298" y="577" width="8" height="8" fill="#fea747"/><rect x="306" y="577" width="8" height="8" fill="#fea747"/><rect x="314" y="577" width="8" height="8" fill="#fea747"/><rect x="322" y="577" width="8" height="8" fill="#fea747"/><rect x="330" y="577" width="8" height="8" fill="#fea747"/><rect x="338" y="577" width="8" height="8" fill="#fea747"/><rect x="346" y="577" width="8" height="8" fill="#fea948"/><rect x="354" y="577" width="8" height="8" fill="#feac49"/><rect x="362" y="577" width="8" height="8" fill="#feb14b"/><rect x="370" y="577" width="8" height="8" fill="#feb752"/><rect x="378" y="577" width="8" height="8" fill="#febe58"/><rect x="386" y="577" width="8" height="8" fill="#fec35f"/><rect x="394" y="577" width="8" height="8" fill="#fec864"/><rect x="402" y="577" width="8" height="8" fill="#fecc68"/><rect x="410" y="577" width="8" height="8" fill="#fecd69"/><rect x="418" y="577" width="8" height="8" fill="#fecd69"/><rect x="426" y="577" width="8" height="8" fill="#fecd69"/><rect x="290" y="585" width="8" height="8" fill="#feb24c"/><rect x="298" y="585" width="8" height="8" fill="#feb24c"/><rect x="306" y="585" width="8" height="8" fill="#feb24c"/><rect x="314" y="585" width="8" height="8" fill="#feb24c"/><rect x="322" y="585" width="8" height="8" fill="#feb24c"/><rect x="330" y="585" width="8" height="8" fill="#feb24c"/><rect x="338" y="585" width="8" height="8" fill="#feb24c"/><rect x="346" y="585" width="8" height="8" fill="#feb34d"/><rect x="354" y="585" width="8" height="8" fill="#feb650"/><rect x="362" y="585" width="8" height="8" fill="#feba55"/><rect x="370" y="585" width="8" height="8" fill="#fec15c"/><rect x="378" y="585" width="8" height="8" fill="#fec762"/><rect x="386" y="585" width="8" height="8" fill="#fecd69"/><rect x="394" y="585" width="8" height="8" fill="#fed26e"/><rect x="402" y="585" width="8" height="8" fill="#fed673"/><rect x="410" y="585" width="8" height="8" fill="#fed875"/><rect x="418" y="585" width="8" height="8" fill="#fed976"/><rect x="426" y="585" width="8" height="8" fill="#fed976"/><rect x="290" y="593" width="8" height="8" fill="#fec25d"/><rect x="298" y="593" width="8" height="8" fill="#fec25d"/><rect x="306" y="593" width="8" height="8" fill="#fec25d"/><rect x="314" y="593" width="8" height="8" fill="#fec25d"/><rect x="322" y="593" width="8" height="8" fill="#fec25d"/><rect x="330" y="593" width="8" height="8" fill="#fec25d"/><rect x="338" y="593" width="8" height="8" fill="#fec25d"/><rect x="346" y="593" width="8" height="8" fill="#fec25d"/><rect x="354" y="593" width="8" height="8" fill="#fec35e"/><rect x="362" y="593" width="8" height="8" fill="#fec561"/><rect x="370" y="593" width="8" height="8" fill="#feca65"/><rect x="378" y="593" width="8" height="8" fill="#fecd69"/><rect x="386" y="593" width="8" height="8" fill="#fecf6b"/><rect x="394" y="593" width="8" height="8" fill="#fed16e"/><rect x="402" y="593" width="8" height="8" fill="#fed572"/><rect x="410" y="593" width="8" height="8" fill="#fed774"/><rect x="418" y="593" width="8" height="8" fill="#fed875"/><rect x="426" y="593" width="8" height="8" fill="#fed976"/><rect x="290" y="601" width="8" height="8" fill="#fecd69"/><rect x="298" y="601" width="8" height="8" fill="#fecd69"/><rect x="306" y="601" width="8" height="8" fill="#fecd69"/><rect x="314" y="601" width="8" height="8" fill="#fecd69"/><rect x="322" y="601" width="8" height="8" fill="#fecd69"/><rect x="330" y="601" width="8" height="8" fill="#fecd69"/><rect x="338" y="601" width="8" height="8" fill="#fecd69"/><rect x="346" y="601" width="8" height="8" fill="#fecd69"/><rect x="354" y="601" width="8" height="8" fill="#fecd69"/><rect x="362" y="601" width="8" height="8" fill="#fece6b"/><rect x="370" y="601" width="8" height="8" fill="#fed16d"/><rect x="378" y="601" width="8" height="8" fill="#fed06c"/><rect x="386" y="601" width="8" height="8" fill="#fecc68"/><rect x="394" y="601" width="8" height="8" fill="#feca66"/><rect x="402" y="601" width="8" height="8" fill="#feca65"/><rect x="410" y="601" width="8" height="8" fill="#fecc68"/><rect x="418" y="601" width="8" height="8" fill="#fed26f"/><rect x="426" y="601" width="8" height="8" fill="#fed572"/><rect x="290" y="609" width="8" height="8" fill="#fed572"/><rect x="298" y="609" width="8" height="8" fill="#fed572"/><rect x="306" y="609" width="8" height="8" fill="#fed572"/><rect x="314" y="609" width="8" height="8" fill="#fed572"/><rect x="322" y="609" width="8" height="8" fill="#fed572"/><rect x="330" y="609" width="8" height="8" fill="#fed572"/><rect x="338" y="609" width="8" height="8" fill="#fed572"/><rect x="346" y="609" width="8" height="8" fill="#fed572"/><rect x="354" y="609" width="8" height="8" fill="#fed572"/><rect x="362" y="609" width="8" height="8" fill="#fed572"/><rect x="370" y="609" width="8" height="8" fill="#fed673"/><rect x="378" y="609" width="8" height="8" fill="#fed16d"/><rect x="386" y="609" width="8" height="8" fill="#fec561"/><rect x="394" y="609" width="8" height="8" fill="#febc56"/><rect x="402" y="609" width="8" height="8" fill="#feb44e"/><rect x="410" y="609" width="8" height="8" fill="#feb852"/><rect x="418" y="609" width="8" height="8" fill="#fec662"/><rect x="426" y="609" width="8" height="8" fill="#fecd69"/><rect x="290" y="617" width="8" height="8" fill="#fedb7a"/><rect x="298" y="617" width="8" height="8" fill="#fedb7a"/><rect x="306" y="617" width="8" height="8" fill="#fedb7a"/><rect x="314" y="617" width="8" height="8" fill="#fedb7a"/><rect x="322" y="617" width="8" height="8" fill="#fedb7a"/><rect x="330" y="617" width="8" height="8" fill="#fedb7a"/><rect x="338" y="617" width="8" height="8" fill="#fedb7a"/><rect x="346" y="617" width="8" height="8" fill="#fedb7a"/><rect x="354" y="617" width="8" height="8" fill="#fedb7a"/><rect x="362" y="617" width="8" height="8" fill="#fedb7a"/><rect x="370" y="617" width="8" height="8" fill="#fedb7a"/><rect x="378" y="617" width="8" height="8" fill="#fed773"/><rect x="386" y="617" width="8" height="8" fill="#feca66"/><rect x="394" y="617" width="8" height="8" fill="#fec05b"/><rect x="402" y="617" width="8" height="8" fill="#feb852"/><rect x="410" y="617" width="8" height="8" fill="#febb56"/><rect x="418" y="617" width="8" height="8" fill="#feca66"/><rect x="426" y="617" width="8" height="8" fill="#fed16e"/><rect x="290" y="625" width="8" height="8" fill="#fedf83"/><rect x="298" y="625" width="8" height="8" fill="#fedf83"/><rect x="306" y="625" width="8" height="8" fill="#fedf83"/><rect x="314" y="625" width="8" height="8" fill="#fedf83"/><rect x="322" y="625" width="8" height="8" fill="#fedf83"/><rect x="330" y="625" width="8" height="8" fill="#fedf83"/><rect x="338" y="625" width="8" height="8" fill="#fedf83"/><rect x="346" y="625" width="8" height="8" fill="#fedf83"/><rect x="354" y="625" width="8" height="8" fill="#fedf83"/><rect x="362" y="625" width="8" height="8" fill="#fedf83"/><rect x="370" y="625" width="8" height="8" fill="#fedf83"/><rect x="378" y="625" width="8" height="8" fill="#fedd7f"/><rect x="386" y="625" width="8" height="8" fill="#feda79"/><rect x="394" y="625" width="8" height="8" fill="#fed774"/><rect x="402" y="625" width="8" height="8" fill="#fed471"/><rect x="410" y="625" width="8" height="8" fill="#fed673"/><rect x="418" y="625" width="8" height="8" fill="#fedb7b"/><rect x="426" y="625" width="8" height="8" fill="#fedd7e"/><rect x="290" y="633" width="8" height="8" fill="#fee288"/><rect x="298" y="633" width="8" height="8" fill="#fee288"/><rect x="306" y="633" width="8" height="8" fill="#fee288"/><rect x="314" y="633" width="8" height="8" fill="#fee288"/><rect x="322" y="633" width="8" height="8" fill="#fee288"/><rect x="330" y="633" width="8" height="8" fill="#fee288"/><rect x="338" y="633" width="8" height="8" fill="#fee288"/><rect x="346" y="633" width="8" height="8" fill="#fee288"/><rect x="354" y="633" width="8" height="8" fill="#fee288"/><rect x="362" y="633" width="8" height="8" fill="#fee288"/><rect x="370" y="633" width="8" height="8" fill="#fee288"/><rect x="378" y="633" width="8" height="8" fill="#fee187"/><rect x="386" y="633" width="8" height="8" fill="#fedf83"/><rect x="394" y="633" width="8" height="8" fill="#fedf82"/><rect x="402" y="633" width="8" height="8" fill="#fedf82"/><rect x="410" y="633" width="8" height="8" fill="#fedf83"/><rect x="418" y="633" width="8" height="8" fill="#fee086"/><rect x="426" y="633" width="8" height="8" fill="#fee187"/><rect x="290" y="641" width="8" height="8" fill="#ffe38c"/><rect x="298" y="641" width="8" height="8" fill="#ffe38c"/><rect x="306" y="641" width="8" height="8" fill="#ffe38c"/><rect x="314" y="641" width="8" height="8" fill="#ffe38c"/><rect x="322" y="641" width="8" height="8" fill="#ffe38c"/><rect x="330" y="641" width="8" height="8" fill="#ffe38c"/><rect x="338" y="641" width="8" height="8" fill="#ffe38c"/><rect x="346" y="641" width="8" height="8" fill="#ffe38c"/><rect x="354" y="641" width="8" height="8" fill="#ffe38c"/><rect x="362" y="641" width="8" height="8" fill="#ffe38c"/><rect x="370" y="641" width="8" height="8" fill="#ffe38c"/><rect x="378" y="641" width="8" height="8" fill="#fee38a"/><rect x="386" y="641" width="8" height="8" fill="#fee187"/><rect x="394" y="641" width="8" height="8" fill="#fee085"/><rect x="402" y="641" width="8" height="8" fill="#fee085"/><rect x="410" y="641" width="8" height="8" fill="#fee086"/><rect x="418" y="641" width="8" height="8" fill="#fee186"/><rect x="426" y="641" width="8" height="8" fill="#fee187"/><rect x="290" y="649" width="8" height="8" fill="#ffe48e"/><rect x="298" y="649" width="8" height="8" fill="#ffe48e"/><rect x="306" y="649" width="8" height="8" fill="#ffe48e"/><rect x="314" y="649" width="8" height="8" fill="#ffe48e"/><rect x="322" y="649" width="8" height="8" fill="#ffe48e"/><rect x="330" y="649" width="8" height="8" fill="#ffe48e"/><rect x="338" y="649" width="8" height="8" fill="#ffe48e"/><rect x="346" y="649" width="8" height="8" fill="#ffe48e"/><rect x="354" y="649" width="8" height="8" fill="#ffe48e"/><rect x="362" y="649" width="8" height="8" fill="#ffe48e"/><rect x="370" y="649" width="8" height="8" fill="#ffe48e"/><rect x="378" y="649" width="8" height="8" fill="#ffe38c"/><rect x="386" y="649" width="8" height="8" fill="#fee288"/><rect x="394" y="649" width="8" height="8" fill="#fee187"/><rect x="402" y="649" width="8" height="8" fill="#fee187"/><rect x="410" y="649" width="8" height="8" fill="#fee187"/><rect x="418" y="649" width="8" height="8" fill="#fee187"/><rect x="426" y="649" width="8" height="8" fill="#fee187"/></g></g><g fill="#c9cbd5" shape-rendering="crispEdges"><polygon points="353.1,290.5 358.3,289.2 361.7,290.1 361.7,298.3 359.1,296.6 357.4,294.8 354.0,294.8"/><polygon points="372.1,300.9 375.5,300.0 378.9,301.7 380.7,303.4 375.5,304.3 372.9,302.6"/><polygon points="400.5,312.1 403.1,310.3 405.6,309.5 408.7,311.2 408.2,314.6 404.8,315.9 402.2,314.6"/><polygon points="401.3,297.4 403.9,296.6 404.8,298.3 404.8,302.6 402.6,301.7 400.5,300.0"/><polygon points="385.8,328.4 389.3,328.4 389.7,332.7 385.8,332.7"/><polygon points="395.3,328.4 398.8,328.0 399.6,332.7 395.3,332.7"/><polygon points="370.3,335.7 372.9,334.4 375.5,334.9 375.1,337.9 373.8,339.6 371.6,339.6 370.3,337.9"/><polygon points="385.0,330.1 389.3,330.1 391.0,332.7 392.7,335.3 392.3,337.5 390.1,337.9 388.4,336.2 385.8,334.4"/><polygon points="396.2,330.6 400.0,330.6 399.6,332.7 397.0,332.7"/><polygon points="365.2,337.0 367.3,337.0 367.8,338.8 366.0,339.6 365.2,338.8"/></g></g><rect x="298.5" y="25.5" width="123" height="619" fill="none" stroke="#000" stroke-width="1"/><line x1="291" y1="25.5" x2="298" y2="25.5" stroke="#000"/><line x1="295" y1="46.5" x2="298" y2="46.5" stroke="#000"/><line x1="295" y1="67.5" x2="298" y2="67.5" stroke="#000"/><line x1="295" y1="87.5" x2="298" y2="87.5" stroke="#000"/><line x1="295" y1="108.5" x2="298" y2="108.5" stroke="#000"/><line x1="291" y1="129.5" x2="298" y2="129.5" stroke="#000"/><line x1="295" y1="149.5" x2="298" y2="149.5" stroke="#000"/><line x1="295" y1="170.5" x2="298" y2="170.5" stroke="#000"/><line x1="295" y1="190.5" x2="298" y2="190.5" stroke="#000"/><line x1="295" y1="211.5" x2="298" y2="211.5" stroke="#000"/><line x1="291" y1="232.5" x2="298" y2="232.5" stroke="#000"/><line x1="295" y1="252.5" x2="298" y2="252.5" stroke="#000"/><line x1="295" y1="273.5" x2="298" y2="273.5" stroke="#000"/><line x1="295" y1="294.5" x2="298" y2="294.5" stroke="#000"/><line x1="295" y1="314.5" x2="298" y2="314.5" stroke="#000"/><line x1="291" y1="335.5" x2="298" y2="335.5" stroke="#000"/><line x1="295" y1="355.5" x2="298" y2="355.5" stroke="#000"/><line x1="295" y1="376.5" x2="298" y2="376.5" stroke="#000"/><line x1="295" y1="397.5" x2="298" y2="397.5" stroke="#000"/><line x1="295" y1="417.5" x2="298" y2="417.5" stroke="#000"/><line x1="291" y1="438.5" x2="298" y2="438.5" stroke="#000"/><line x1="295" y1="459.5" x2="298" y2="459.5" stroke="#000"/><line x1="295" y1="479.5" x2="298" y2="479.5" stroke="#000"/><line x1="295" y1="500.5" x2="298" y2="500.5" stroke="#000"/><line x1="295" y1="521.5" x2="298" y2="521.5" stroke="#000"/><line x1="291" y1="541.5" x2="298" y2="541.5" stroke="#000"/><line x1="295" y1="562.5" x2="298" y2="562.5" stroke="#000"/><line x1="295" y1="582.5" x2="298" y2="582.5" stroke="#000"/><line x1="295" y1="603.5" x2="298" y2="603.5" stroke="#000"/><line x1="295" y1="624.5" x2="298" y2="624.5" stroke="#000"/><line x1="291" y1="644.5" x2="298" y2="644.5" stroke="#000"/><line x1="298.5" y1="644" x2="298.5" y2="648" stroke="#000"/><line x1="318.5" y1="644" x2="318.5" y2="648" stroke="#000"/><line x1="339.5" y1="644" x2="339.5" y2="648" stroke="#000"/><line x1="359.5" y1="644" x2="359.5" y2="651" stroke="#000"/><line x1="380.5" y1="644" x2="380.5" y2="648" stroke="#000"/><line x1="401.5" y1="644" x2="401.5" y2="648" stroke="#000"/><line x1="421.5" y1="644" x2="421.5" y2="648" stroke="#000"/><text x="361.1" y="664" font-family='"Liberation Sans", sans-serif' font-size="12" text-anchor="middle" textLength="27.5" lengthAdjust="spacingAndGlyphs">-25°</text><text transform="translate(289,24) rotate(-90)" font-family='"Liberation Sans", sans-serif' font-size="12" text-anchor="middle" textLength="23" lengthAdjust="spacingAndGlyphs">30°</text><text transform="translate(289,128) rotate(-90)" font-family='"Liberation Sans", sans-serif' font-size="12" text-anchor="middle" textLength="23" lengthAdjust="spacingAndGlyphs">25°</text><text transform="translate(289,231) rotate(-90)" font-family='"Liberation Sans", sans-serif' font-size="12" text-anchor="middle" textLength="23" lengthAdjust="spacingAndGlyphs">20°</text><text transform="translate(289,331.5) rotate(-90)" font-family='"Liberation Sans", sans-serif' font-size="12" text-anchor="middle" textLength="23" lengthAdjust="spacingAndGlyphs">15°</text><text transform="translate(289,434.5) rotate(-90)" font-family='"Liberation Sans", sans-serif' font-size="12" text-anchor="middle" textLength="23" lengthAdjust="spacingAndGlyphs">10°</text><text transform="translate(289,539.5) rotate(-90)" font-family='"Liberation Sans", sans-serif' font-size="12" text-anchor="middle" textLength="15" lengthAdjust="spacingAndGlyphs">5°</text><text transform="translate(289,643.5) rotate(-90)" font-family='"Liberation Sans", sans-serif' font-size="12" text-anchor="middle" textLength="15" lengthAdjust="spacingAndGlyphs">0°</text><rect x="0.5" y="675.5" width="719" height="124" fill="#ffffcc" stroke="#000"/><rect x="48" y="692" width="16" height="18" fill="#fffdc8"/><rect x="64" y="692" width="16" height="18" fill="#fffabf"/><rect x="80" y="692" width="16" height="18" fill="#fff6b6"/><rect x="96" y="692" width="16" height="18" fill="#fff2ad"/><rect x="112" y="692" width="16" height="18" fill="#ffefa4"/><rect x="128" y="692" width="16" height="18" fill="#ffeb9c"/><rect x="144" y="692" width="16" height="18" fill="#ffe793"/><rect x="160" y="692" width="16" height="18" fill="#fee38b"/><rect x="176" y="692" width="16" height="18" fill="#fedf83"/><rect x="192" y="692" width="16" height="18" fill="#fedb7a"/><rect x="208" y="692" width="16" height="18" fill="#fed572"/><rect x="224" y="692" width="16" height="18" fill="#fecd69"/><rect x="240" y="692" width="16" height="18" fill="#fec661"/><rect x="256" y="692" width="16" height="18" fill="#febe59"/><rect x="272" y="692" width="16" height="18" fill="#feb650"/><rect x="288" y="692" width="16" height="18" fill="#feae4a"/><rect x="304" y="692" width="16" height="18" fill="#fea747"/><rect x="320" y="692" width="16" height="18" fill="#fea044"/><rect x="336" y="692" width="16" height="18" fill="#fd9841"/><rect x="352" y="692" width="16" height="18" fill="#fd913e"/><rect x="368" y="692" width="16" height="18" fill="#fd873a"/><rect x="384" y="692" width="16" height="18" fill="#fd7a37"/><rect x="400" y="692" width="16" height="18" fill="#fc6e33"/><rect x="416" y="692" width="16" height="18" fill="#fc612f"/><rect x="432" y="692" width="16" height="18" fill="#fc542c"/><rect x="448" y="692" width="16" height="18" fill="#fa4929"/><rect x="464" y="692" width="16" height="18" fill="#f43e26"/><rect x="480" y="692" width="16" height="18" fill="#f03423"/><rect x="496" y="692" width="16" height="18" fill="#ea2a20"/><rect x="512" y="692" width="16" height="18" fill="#e61f1d"/><rect x="528" y="692" width="16" height="18" fill="#df171d"/><rect x="544" y="692" width="16" height="18" fill="#d8121f"/><rect x="560" y="692" width="16" height="18" fill="#d00d21"/><rect x="576" y="692" width="16" height="18" fill="#c80823"/><rect x="592" y="692" width="16" height="18" fill="#c10325"/><rect x="608" y="692" width="16" height="18" fill="#b70026"/><rect x="624" y="692" width="16" height="18" fill="#ab0026"/><rect x="640" y="692" width="16" height="18" fill="#9e0026"/><rect x="656" y="692" width="16" height="18" fill="#920026"/><rect x="672" y="692" width="17" height="18" fill="#860026"/><line x1="48.5" y1="710" x2="48.5" y2="714" stroke="#000"/><line x1="64.5" y1="710" x2="64.5" y2="713" stroke="#000"/><line x1="80.5" y1="710" x2="80.5" y2="713" stroke="#000"/><line x1="96.5" y1="710" x2="96.5" y2="713" stroke="#000"/><line x1="112.5" y1="710" x2="112.5" y2="714" stroke="#000"/><line x1="128.5" y1="710" x2="128.5" y2="713" stroke="#000"/><line x1="144.5" y1="710" x2="144.5" y2="713" stroke="#000"/><line x1="160.5" y1="710" x2="160.5" y2="713" stroke="#000"/><line x1="176.5" y1="710" x2="176.5" y2="714" stroke="#000"/><line x1="192.5" y1="710" x2="192.5" y2="713" stroke="#000"/><line x1="208.5" y1="710" x2="208.5" y2="713" stroke="#000"/><line x1="224.5" y1="710" x2="224.5" y2="713" stroke="#000"/><line x1="240.5" y1="710" x2="240.5" y2="714" stroke="#000"/><line x1="256.5" y1="710" x2="256.5" y2="713" stroke="#000"/><line x1="272.5" y1="710" x2="272.5" y2="713" stroke="#000"/><line x1="288.5" y1="710" x2="288.5" y2="713" stroke="#000"/><line x1="304.5" y1="710" x2="304.5" y2="714" stroke="#000"/><line x1="320.5" y1="710" x2="320.5" y2="713" stroke="#000"/><line x1="336.5" y1="710" x2="336.5" y2="713" stroke="#000"/><line x1="352.5" y1="710" x2="352.5" y2="713" stroke="#000"/><line x1="368.5" y1="710" x2="368.5" y2="714" stroke="#000"/><line x1="384.5" y1="710" x2="384.5" y2="713" stroke="#000"/><line x1="400.5" y1="710" x2="400.5" y2="713" stroke="#000"/><line x1="416.5" y1="710" x2="416.5" y2="713" stroke="#000"/><line x1="432.5" y1="710" x2="432.5" y2="714" stroke="#000"/><line x1="448.5" y1="710" x2="448.5" y2="713" stroke="#000"/><line x1="464.5" y1="710" x2="464.5" y2="713" stroke="#000"/><line x1="480.5" y1="710" x2="480.5" y2="713" stroke="#000"/><line x1="496.5" y1="710" x2="496.5" y2="714" stroke="#000"/><line x1="512.5" y1="710" x2="512.5" y2="713" stroke="#000"/><line x1="528.5" y1="710" x2="528.5" y2="713" stroke="#000"/><line x1="544.5" y1="710" x2="544.5" y2="713" stroke="#000"/><line x1="560.5" y1="710" x2="560.5" y2="714" stroke="#000"/><line x1="576.5" y1="710" x2="576.5" y2="713" stroke="#000"/><line x1="592.5" y1="710" x2="592.5" y2="713" stroke="#000"/><line x1="608.5" y1="710" x2="608.5" y2="713" stroke="#000"/><line x1="624.5" y1="710" x2="624.5" y2="714" stroke="#000"/><line x1="640.5" y1="710" x2="640.5" y2="713" stroke="#000"/><line x1="656.5" y1="710" x2="656.5" y2="713" stroke="#000"/><line x1="672.5" y1="710" x2="672.5" y2="713" stroke="#000"/><line x1="689.5" y1="710" x2="689.5" y2="714" stroke="#000"/><text x="47" y="725" font-family='"Liberation Sans", sans-serif' font-size="12" text-anchor="middle">0</text><text x="111" y="725" font-family='"Liberation Sans", sans-serif' font-size="12" text-anchor="middle">0.1</text><text x="175" y="725" font-family='"Liberation Sans", sans-serif' font-size="12" text-anchor="middle">0.2</text><text x="239" y="725" font-family='"Liberation Sans", sans-serif' font-size="12" text-anchor="middle">0.3</text><text x="303" y="725" font-family='"Liberation Sans", sans-serif' font-size="12" text-anchor="middle">0.4</text><text x="367" y="725" font-family='"Liberation Sans", sans-serif' font-size="12" text-anchor="middle">0.5</text><text x="431" y="725" font-family='"Liberation Sans", sans-serif' font-size="12" text-anchor="middle">0.6</text><text x="495" y="725" font-family='"Liberation Sans", sans-serif' font-size="12" text-anchor="middle">0.7</text><text x="559" y="725" font-family='"Liberation Sans", sans-serif' font-size="12" text-anchor="middle">0.8</text><text x="623" y="725" font-family='"Liberation Sans", sans-serif' font-size="12" text-anchor="middle">0.9</text><text x="689" y="725" font-family='"Liberation Sans", sans-serif' font-size="12" text-anchor="middle">1</text><text x="48.2" y="743" font-family='"Liberation Sans", sans-serif' font-size="10.2" font-weight="bold" textLength="21.0" lengthAdjust="spacingAndGlyphs">ABI</text><text x="72.2" y="743" font-family='"Liberation Sans", sans-serif' font-size="10.2" font-weight="bold" textLength="25.2" lengthAdjust="spacingAndGlyphs">L2+</text><text x="101.5" y="743" font-family='"Liberation Sans", sans-serif' font-size="10.2" font-weight="bold" textLength="49.8" lengthAdjust="spacingAndGlyphs">Aerosol</text><text x="153.2" y="743" font-family='"Liberation Sans", sans-serif' font-size="10.2" font-weight="bold" textLength="45.4" lengthAdjust="spacingAndGlyphs">Optical</text><text x="202.3" y="743" font-family='"Liberation Sans", sans-serif' font-size="10.2" font-weight="bold" textLength="39.0" lengthAdjust="spacingAndGlyphs">Depth</text><text x="245.0" y="743" font-family='"Liberation Sans", sans-serif' font-size="10.2" font-weight="bold" textLength="13.2" lengthAdjust="spacingAndGlyphs">at</text><text x="260.7" y="743" font-family='"Liberation Sans", sans-serif' font-size="10.2" font-weight="bold" textLength="25.2" lengthAdjust="spacingAndGlyphs">550</text><text x="289.0" y="743" font-family='"Liberation Sans", sans-serif' font-size="10.2" font-weight="bold" textLength="20.8" lengthAdjust="spacingAndGlyphs">nm</text><text x="312.3" y="743" font-family='"Liberation Sans", sans-serif' font-size="10.2" font-weight="bold" textLength="17.8" lengthAdjust="spacingAndGlyphs">(1)</text><text x="47.2" y="754" font-family='"Liberation Sans", sans-serif' font-size="10.2" font-weight="normal" textLength="74.0" lengthAdjust="spacingAndGlyphs">Experimental</text><text x="125.5" y="754" font-family='"Liberation Sans", sans-serif' font-size="10.2" font-weight="normal" textLength="22.2" lengthAdjust="spacingAndGlyphs">NRT</text><text x="152.0" y="754" font-family='"Liberation Sans", sans-serif' font-size="10.2" font-weight="normal" textLength="24.2" lengthAdjust="spacingAndGlyphs">AOD</text><text x="180.0" y="754" font-family='"Liberation Sans", sans-serif' font-size="10.2" font-weight="normal" textLength="8.0" lengthAdjust="spacingAndGlyphs">4</text><text x="190.7" y="754" font-family='"Liberation Sans", sans-serif' font-size="10.2" font-weight="normal" textLength="26.0" lengthAdjust="spacingAndGlyphs">hour</text><text x="220.7" y="754" font-family='"Liberation Sans", sans-serif' font-size="10.2" font-weight="normal" textLength="60.2" lengthAdjust="spacingAndGlyphs">composite</text><text x="284.0" y="754" font-family='"Liberation Sans", sans-serif' font-size="10.2" font-weight="normal" textLength="42.2" lengthAdjust="spacingAndGlyphs">created</text><text x="330.8" y="754" font-family='"Liberation Sans", sans-serif' font-size="10.2" font-weight="normal" textLength="26.6" lengthAdjust="spacingAndGlyphs">from</text><text x="361.7" y="754" font-family='"Liberation Sans", sans-serif' font-size="10.2" font-weight="normal" textLength="19.2" lengthAdjust="spacingAndGlyphs">ABI</text><text x="383.2" y="754" font-family='"Liberation Sans", sans-serif' font-size="10.2" font-weight="normal" textLength="13.4" lengthAdjust="spacingAndGlyphs">L2</text><text x="401.7" y="754" font-family='"Liberation Sans", sans-serif' font-size="10.2" font-weight="normal" textLength="23.2" lengthAdjust="spacingAndGlyphs">data</text><text x="430.0" y="754" font-family='"Liberation Sans", sans-serif' font-size="10.2" font-weight="normal" textLength="26.2" lengthAdjust="spacingAndGlyphs">from</text><text x="460.7" y="754" font-family='"Liberation Sans", sans-serif' font-size="10.2" font-weight="normal" textLength="54.0" lengthAdjust="spacingAndGlyphs">GOES-19.</text><text x="519.8" y="754" font-family='"Liberation Sans", sans-serif' font-size="10.2" font-weight="normal" textLength="32.6" lengthAdjust="spacingAndGlyphs">Fields</text><text x="556.4" y="754" font-family='"Liberation Sans", sans-serif' font-size="10.2" font-weight="normal" textLength="58.2" lengthAdjust="spacingAndGlyphs">generated</text><text x="618.0" y="754" font-family='"Liberation Sans", sans-serif' font-size="10.2" font-weight="normal" textLength="13.8" lengthAdjust="spacingAndGlyphs">by</text><text x="635.6" y="754" font-family='"Liberation Sans", sans-serif' font-size="10.2" font-weight="normal" textLength="40.6" lengthAdjust="spacingAndGlyphs">Atlantic</text><text x="47.2" y="764.5" font-family='"Liberation Sans", sans-serif' font-size="10.2" font-weight="normal" textLength="70.4" lengthAdjust="spacingAndGlyphs">OceanWatch</text><text x="120.5" y="764.5" font-family='"Liberation Sans", sans-serif' font-size="10.2" font-weight="normal" textLength="24.0" lengthAdjust="spacingAndGlyphs">node</text><text x="152.3" y="764.5" font-family='"Liberation Sans", sans-serif' font-size="10.2" font-weight="normal" textLength="12.8" lengthAdjust="spacingAndGlyphs">at</text><text x="167.3" y="764.5" font-family='"Liberation Sans", sans-serif' font-size="10.2" font-weight="normal" textLength="66.0" lengthAdjust="spacingAndGlyphs">NOAA/AOML</text><text x="47.2" y="775.5" font-family='"Liberation Sans", sans-serif' font-size="10.2" font-weight="normal" textLength="138.2" lengthAdjust="spacingAndGlyphs">(2026-01-11T10:00:00Z)</text><text x="47.2" y="786" font-family='"Liberation Sans", sans-serif' font-size="10.2" font-weight="normal" textLength="26.0" lengthAdjust="spacingAndGlyphs">Data</text><text x="77.2" y="786" font-family='"Liberation Sans", sans-serif' font-size="10.2" font-weight="normal" textLength="49.0" lengthAdjust="spacingAndGlyphs">courtesy</text><text x="129.7" y="786" font-family='"Liberation Sans", sans-serif' font-size="10.2" font-weight="normal" textLength="12.4" lengthAdjust="spacingAndGlyphs">of</text><text x="145.5" y="786" font-family='"Liberation Sans", sans-serif' font-size="10.2" font-weight="normal" textLength="173.8" lengthAdjust="spacingAndGlyphs">USDOC/NOAA/OAR/AOML/PHOD</text></svg></body></html>
